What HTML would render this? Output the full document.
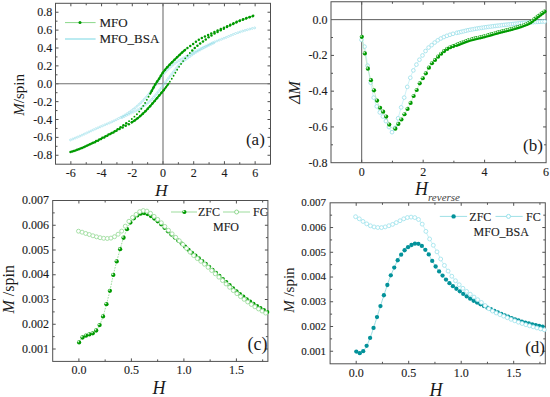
<!DOCTYPE html>
<html><head><meta charset="utf-8"><style>
html,body{margin:0;padding:0;background:#fff;width:550px;height:397px;overflow:hidden}
svg{display:block;font-family:"Liberation Serif", serif}
text.t{stroke:#1a1a1a;stroke-width:0.12px}
</style></head><body>
<svg width="550" height="397" viewBox="0 0 550 397">
<rect width="550" height="397" fill="#fff"/>
<rect x="55.5" y="3.3" width="215" height="160.9" fill="none" stroke="#505050" stroke-width="1.0"/>
<line x1="70.86" y1="164.2" x2="70.86" y2="161.2" stroke="#505050" stroke-width="1"/>
<line x1="70.86" y1="3.3" x2="70.86" y2="6.3" stroke="#505050" stroke-width="1"/>
<line x1="101.57" y1="164.2" x2="101.57" y2="161.2" stroke="#505050" stroke-width="1"/>
<line x1="101.57" y1="3.3" x2="101.57" y2="6.3" stroke="#505050" stroke-width="1"/>
<line x1="132.29" y1="164.2" x2="132.29" y2="161.2" stroke="#505050" stroke-width="1"/>
<line x1="132.29" y1="3.3" x2="132.29" y2="6.3" stroke="#505050" stroke-width="1"/>
<line x1="163" y1="164.2" x2="163" y2="161.2" stroke="#505050" stroke-width="1"/>
<line x1="163" y1="3.3" x2="163" y2="6.3" stroke="#505050" stroke-width="1"/>
<line x1="193.71" y1="164.2" x2="193.71" y2="161.2" stroke="#505050" stroke-width="1"/>
<line x1="193.71" y1="3.3" x2="193.71" y2="6.3" stroke="#505050" stroke-width="1"/>
<line x1="224.43" y1="164.2" x2="224.43" y2="161.2" stroke="#505050" stroke-width="1"/>
<line x1="224.43" y1="3.3" x2="224.43" y2="6.3" stroke="#505050" stroke-width="1"/>
<line x1="255.14" y1="164.2" x2="255.14" y2="161.2" stroke="#505050" stroke-width="1"/>
<line x1="255.14" y1="3.3" x2="255.14" y2="6.3" stroke="#505050" stroke-width="1"/>
<line x1="86.22" y1="164.2" x2="86.22" y2="162.2" stroke="#505050" stroke-width="1"/>
<line x1="86.22" y1="3.3" x2="86.22" y2="5.3" stroke="#505050" stroke-width="1"/>
<line x1="116.93" y1="164.2" x2="116.93" y2="162.2" stroke="#505050" stroke-width="1"/>
<line x1="116.93" y1="3.3" x2="116.93" y2="5.3" stroke="#505050" stroke-width="1"/>
<line x1="147.64" y1="164.2" x2="147.64" y2="162.2" stroke="#505050" stroke-width="1"/>
<line x1="147.64" y1="3.3" x2="147.64" y2="5.3" stroke="#505050" stroke-width="1"/>
<line x1="178.36" y1="164.2" x2="178.36" y2="162.2" stroke="#505050" stroke-width="1"/>
<line x1="178.36" y1="3.3" x2="178.36" y2="5.3" stroke="#505050" stroke-width="1"/>
<line x1="209.07" y1="164.2" x2="209.07" y2="162.2" stroke="#505050" stroke-width="1"/>
<line x1="209.07" y1="3.3" x2="209.07" y2="5.3" stroke="#505050" stroke-width="1"/>
<line x1="239.78" y1="164.2" x2="239.78" y2="162.2" stroke="#505050" stroke-width="1"/>
<line x1="239.78" y1="3.3" x2="239.78" y2="5.3" stroke="#505050" stroke-width="1"/>
<line x1="55.5" y1="155.26" x2="58.5" y2="155.26" stroke="#505050" stroke-width="1"/>
<line x1="270.5" y1="155.26" x2="267.5" y2="155.26" stroke="#505050" stroke-width="1"/>
<line x1="55.5" y1="137.38" x2="58.5" y2="137.38" stroke="#505050" stroke-width="1"/>
<line x1="270.5" y1="137.38" x2="267.5" y2="137.38" stroke="#505050" stroke-width="1"/>
<line x1="55.5" y1="119.51" x2="58.5" y2="119.51" stroke="#505050" stroke-width="1"/>
<line x1="270.5" y1="119.51" x2="267.5" y2="119.51" stroke="#505050" stroke-width="1"/>
<line x1="55.5" y1="101.63" x2="58.5" y2="101.63" stroke="#505050" stroke-width="1"/>
<line x1="270.5" y1="101.63" x2="267.5" y2="101.63" stroke="#505050" stroke-width="1"/>
<line x1="55.5" y1="83.75" x2="58.5" y2="83.75" stroke="#505050" stroke-width="1"/>
<line x1="270.5" y1="83.75" x2="267.5" y2="83.75" stroke="#505050" stroke-width="1"/>
<line x1="55.5" y1="65.87" x2="58.5" y2="65.87" stroke="#505050" stroke-width="1"/>
<line x1="270.5" y1="65.87" x2="267.5" y2="65.87" stroke="#505050" stroke-width="1"/>
<line x1="55.5" y1="47.99" x2="58.5" y2="47.99" stroke="#505050" stroke-width="1"/>
<line x1="270.5" y1="47.99" x2="267.5" y2="47.99" stroke="#505050" stroke-width="1"/>
<line x1="55.5" y1="30.12" x2="58.5" y2="30.12" stroke="#505050" stroke-width="1"/>
<line x1="270.5" y1="30.12" x2="267.5" y2="30.12" stroke="#505050" stroke-width="1"/>
<line x1="55.5" y1="12.24" x2="58.5" y2="12.24" stroke="#505050" stroke-width="1"/>
<line x1="270.5" y1="12.24" x2="267.5" y2="12.24" stroke="#505050" stroke-width="1"/>
<line x1="55.5" y1="146.32" x2="57.5" y2="146.32" stroke="#505050" stroke-width="1"/>
<line x1="270.5" y1="146.32" x2="268.5" y2="146.32" stroke="#505050" stroke-width="1"/>
<line x1="55.5" y1="128.44" x2="57.5" y2="128.44" stroke="#505050" stroke-width="1"/>
<line x1="270.5" y1="128.44" x2="268.5" y2="128.44" stroke="#505050" stroke-width="1"/>
<line x1="55.5" y1="110.57" x2="57.5" y2="110.57" stroke="#505050" stroke-width="1"/>
<line x1="270.5" y1="110.57" x2="268.5" y2="110.57" stroke="#505050" stroke-width="1"/>
<line x1="55.5" y1="92.69" x2="57.5" y2="92.69" stroke="#505050" stroke-width="1"/>
<line x1="270.5" y1="92.69" x2="268.5" y2="92.69" stroke="#505050" stroke-width="1"/>
<line x1="55.5" y1="74.81" x2="57.5" y2="74.81" stroke="#505050" stroke-width="1"/>
<line x1="270.5" y1="74.81" x2="268.5" y2="74.81" stroke="#505050" stroke-width="1"/>
<line x1="55.5" y1="56.93" x2="57.5" y2="56.93" stroke="#505050" stroke-width="1"/>
<line x1="270.5" y1="56.93" x2="268.5" y2="56.93" stroke="#505050" stroke-width="1"/>
<line x1="55.5" y1="39.05" x2="57.5" y2="39.05" stroke="#505050" stroke-width="1"/>
<line x1="270.5" y1="39.05" x2="268.5" y2="39.05" stroke="#505050" stroke-width="1"/>
<line x1="55.5" y1="21.18" x2="57.5" y2="21.18" stroke="#505050" stroke-width="1"/>
<line x1="270.5" y1="21.18" x2="268.5" y2="21.18" stroke="#505050" stroke-width="1"/>
<line x1="55.5" y1="83.75" x2="270.5" y2="83.75" stroke="#707070" stroke-width="1.1"/>
<line x1="163" y1="3.3" x2="163" y2="164.2" stroke="#707070" stroke-width="1.1"/>
<g fill="none" stroke="#90dce8" stroke-width="0.6"><circle cx="70.5" cy="139.92" r="0.95"/><circle cx="72.83" cy="139.02" r="0.95"/><circle cx="75.15" cy="138.09" r="0.95"/><circle cx="77.46" cy="137.13" r="0.95"/><circle cx="79.76" cy="136.15" r="0.95"/><circle cx="82.04" cy="135.13" r="0.95"/><circle cx="84.31" cy="134.09" r="0.95"/><circle cx="86.58" cy="133.02" r="0.95"/><circle cx="88.84" cy="131.97" r="0.95"/><circle cx="91.1" cy="130.9" r="0.95"/><circle cx="93.37" cy="129.84" r="0.95"/><circle cx="95.64" cy="128.8" r="0.95"/><circle cx="97.93" cy="127.8" r="0.95"/><circle cx="100.22" cy="126.8" r="0.95"/><circle cx="102.52" cy="125.82" r="0.95"/><circle cx="104.83" cy="124.85" r="0.95"/><circle cx="107.14" cy="123.89" r="0.95"/><circle cx="109.44" cy="122.91" r="0.95"/><circle cx="111.72" cy="121.9" r="0.95"/><circle cx="113.99" cy="120.84" r="0.95"/><circle cx="116.23" cy="119.73" r="0.95"/><circle cx="118.45" cy="118.59" r="0.95"/><circle cx="120.66" cy="117.42" r="0.95"/><circle cx="122.84" cy="116.2" r="0.95"/><circle cx="125" cy="114.94" r="0.95"/><circle cx="127.13" cy="113.62" r="0.95"/><circle cx="129.21" cy="112.25" r="0.95"/><circle cx="131.26" cy="110.81" r="0.95"/><circle cx="133.26" cy="109.31" r="0.95"/><circle cx="135.2" cy="107.74" r="0.95"/><circle cx="137.11" cy="106.12" r="0.95"/><circle cx="138.97" cy="104.45" r="0.95"/><circle cx="140.79" cy="102.73" r="0.95"/><circle cx="142.57" cy="100.98" r="0.95"/><circle cx="144.33" cy="99.2" r="0.95"/><circle cx="146.04" cy="97.38" r="0.95"/><circle cx="147.67" cy="95.49" r="0.95"/><circle cx="149.24" cy="93.54" r="0.95"/><circle cx="150.78" cy="91.57" r="0.95"/><circle cx="152.29" cy="89.58" r="0.95"/><circle cx="153.78" cy="87.57" r="0.95"/><circle cx="155.21" cy="85.52" r="0.95"/><circle cx="156.59" cy="83.44" r="0.95"/><circle cx="157.99" cy="81.36" r="0.95"/><circle cx="159.43" cy="79.32" r="0.95"/><circle cx="160.95" cy="77.34" r="0.95"/><circle cx="162.51" cy="75.39" r="0.95"/><circle cx="164.11" cy="73.46" r="0.95"/><circle cx="165.76" cy="71.59" r="0.95"/><circle cx="167.49" cy="69.78" r="0.95"/><circle cx="169.32" cy="68.08" r="0.95"/><circle cx="171.2" cy="66.43" r="0.95"/><circle cx="173.14" cy="64.85" r="0.95"/><circle cx="175.13" cy="63.34" r="0.95"/><circle cx="177.16" cy="61.88" r="0.95"/><circle cx="179.24" cy="60.49" r="0.95"/><circle cx="181.36" cy="59.17" r="0.95"/><circle cx="183.54" cy="57.95" r="0.95"/><circle cx="185.76" cy="56.79" r="0.95"/><circle cx="187.96" cy="55.61" r="0.95"/><circle cx="190.15" cy="54.41" r="0.95"/><circle cx="192.35" cy="53.21" r="0.95"/><circle cx="194.54" cy="52.01" r="0.95"/><circle cx="196.74" cy="50.82" r="0.95"/><circle cx="198.95" cy="49.65" r="0.95"/><circle cx="201.16" cy="48.49" r="0.95"/><circle cx="203.38" cy="47.34" r="0.95"/><circle cx="205.6" cy="46.19" r="0.95"/><circle cx="207.83" cy="45.06" r="0.95"/><circle cx="210.08" cy="43.96" r="0.95"/><circle cx="212.35" cy="42.91" r="0.95"/><circle cx="214.64" cy="41.92" r="0.95"/><circle cx="216.96" cy="40.99" r="0.95"/><circle cx="219.29" cy="40.08" r="0.95"/><circle cx="221.63" cy="39.19" r="0.95"/><circle cx="223.96" cy="38.29" r="0.95"/><circle cx="226.28" cy="37.36" r="0.95"/><circle cx="228.58" cy="36.39" r="0.95"/><circle cx="230.88" cy="35.41" r="0.95"/><circle cx="233.19" cy="34.44" r="0.95"/><circle cx="235.51" cy="33.52" r="0.95"/><circle cx="237.87" cy="32.68" r="0.95"/><circle cx="240.24" cy="31.89" r="0.95"/><circle cx="242.62" cy="31.13" r="0.95"/><circle cx="245.01" cy="30.4" r="0.95"/><circle cx="247.41" cy="29.71" r="0.95"/><circle cx="249.83" cy="29.05" r="0.95"/><circle cx="252.25" cy="28.44" r="0.95"/><circle cx="254.69" cy="27.88" r="0.95"/></g>
<g fill="none" stroke="#90dce8" stroke-width="0.6"><circle cx="122.09" cy="117.54" r="0.95"/><circle cx="124.33" cy="116.44" r="0.95"/><circle cx="126.57" cy="115.33" r="0.95"/><circle cx="128.81" cy="114.23" r="0.95"/><circle cx="131.06" cy="113.13" r="0.95"/><circle cx="133.32" cy="112.07" r="0.95"/><circle cx="135.57" cy="110.98" r="0.95"/><circle cx="137.78" cy="109.81" r="0.95"/><circle cx="139.92" cy="108.52" r="0.95"/><circle cx="142.01" cy="107.14" r="0.95"/><circle cx="144.05" cy="105.7" r="0.95"/><circle cx="146.06" cy="104.21" r="0.95"/><circle cx="148.04" cy="102.68" r="0.95"/><circle cx="149.94" cy="101.07" r="0.95"/><circle cx="151.76" cy="99.35" r="0.95"/><circle cx="153.47" cy="97.52" r="0.95"/><circle cx="155.09" cy="95.62" r="0.95"/><circle cx="156.67" cy="93.68" r="0.95"/><circle cx="158.22" cy="91.72" r="0.95"/><circle cx="159.76" cy="89.75" r="0.95"/><circle cx="161.3" cy="87.78" r="0.95"/><circle cx="162.8" cy="85.78" r="0.95"/><circle cx="164.28" cy="83.77" r="0.95"/><circle cx="165.77" cy="81.76" r="0.95"/><circle cx="167.28" cy="79.77" r="0.95"/><circle cx="168.79" cy="77.78" r="0.95"/><circle cx="170.31" cy="75.79" r="0.95"/><circle cx="171.84" cy="73.81" r="0.95"/><circle cx="173.4" cy="71.86" r="0.95"/><circle cx="174.94" cy="69.89" r="0.95"/><circle cx="176.49" cy="67.93" r="0.95"/><circle cx="178.09" cy="66.01" r="0.95"/><circle cx="179.8" cy="64.19" r="0.95"/><circle cx="181.67" cy="62.53" r="0.95"/><circle cx="183.64" cy="60.99" r="0.95"/><circle cx="185.67" cy="59.53" r="0.95"/><circle cx="187.7" cy="58.07" r="0.95"/><circle cx="189.72" cy="56.6" r="0.95"/><circle cx="191.75" cy="55.14" r="0.95"/><circle cx="193.81" cy="53.72" r="0.95"/><circle cx="195.92" cy="52.38" r="0.95"/><circle cx="198.07" cy="51.1" r="0.95"/><circle cx="200.23" cy="49.86" r="0.95"/><circle cx="202.42" cy="48.65" r="0.95"/><circle cx="204.63" cy="47.47" r="0.95"/><circle cx="206.85" cy="46.33" r="0.95"/><circle cx="209.09" cy="45.21" r="0.95"/><circle cx="211.33" cy="44.11" r="0.95"/><circle cx="213.59" cy="43.03" r="0.95"/></g>
<g fill="#009a00" opacity="1"><circle cx="70.5" cy="152.04" r="1.25"/><circle cx="73.84" cy="150.99" r="1.25"/><circle cx="77.14" cy="149.83" r="1.25"/><circle cx="80.41" cy="148.58" r="1.25"/><circle cx="83.62" cy="147.2" r="1.25"/><circle cx="86.8" cy="145.72" r="1.25"/><circle cx="89.96" cy="144.22" r="1.25"/><circle cx="93.1" cy="142.67" r="1.25"/><circle cx="96.21" cy="141.08" r="1.25"/><circle cx="99.31" cy="139.45" r="1.25"/><circle cx="102.4" cy="137.8" r="1.25"/><circle cx="105.48" cy="136.14" r="1.25"/><circle cx="108.57" cy="134.49" r="1.25"/><circle cx="111.68" cy="132.89" r="1.25"/><circle cx="114.75" cy="131.21" r="1.25"/><circle cx="117.7" cy="129.33" r="1.25"/><circle cx="120.57" cy="127.32" r="1.25"/><circle cx="123.42" cy="125.29" r="1.25"/><circle cx="126.27" cy="123.26" r="1.25"/><circle cx="151.87" cy="90.63" r="1.25"/><circle cx="153.5" cy="87.53" r="1.25"/><circle cx="155.18" cy="84.46" r="1.25"/><circle cx="157.1" cy="81.53" r="1.25"/><circle cx="159.07" cy="78.64" r="1.25"/><circle cx="160.9" cy="75.66" r="1.25"/><circle cx="162.77" cy="72.7" r="1.25"/><circle cx="164.91" cy="69.93" r="1.25"/><circle cx="167.19" cy="67.28" r="1.25"/><circle cx="169.58" cy="64.73" r="1.25"/><circle cx="172.05" cy="62.24" r="1.25"/><circle cx="174.53" cy="59.77" r="1.25"/><circle cx="177.02" cy="57.31" r="1.25"/><circle cx="179.54" cy="54.88" r="1.25"/><circle cx="182.11" cy="52.5" r="1.25"/><circle cx="184.74" cy="50.2" r="1.25"/><circle cx="187.45" cy="47.99" r="1.25"/><circle cx="190.28" cy="45.92" r="1.25"/><circle cx="193.12" cy="43.88" r="1.25"/><circle cx="195.93" cy="41.79" r="1.25"/><circle cx="198.8" cy="39.79" r="1.25"/><circle cx="201.82" cy="38.02" r="1.25"/><circle cx="204.93" cy="36.43" r="1.25"/><circle cx="208.1" cy="34.93" r="1.25"/><circle cx="211.26" cy="33.44" r="1.25"/><circle cx="214.43" cy="31.95" r="1.25"/><circle cx="217.62" cy="30.5" r="1.25"/><circle cx="220.81" cy="29.06" r="1.25"/><circle cx="224" cy="27.63" r="1.25"/><circle cx="227.19" cy="26.19" r="1.25"/><circle cx="230.36" cy="24.71" r="1.25"/><circle cx="233.54" cy="23.24" r="1.25"/><circle cx="236.74" cy="21.83" r="1.25"/><circle cx="239.99" cy="20.53" r="1.25"/><circle cx="243.26" cy="19.27" r="1.25"/><circle cx="246.54" cy="18.06" r="1.25"/><circle cx="249.85" cy="16.91" r="1.25"/><circle cx="253.17" cy="15.82" r="1.25"/></g>
<g fill="#009a00" opacity="1"><circle cx="129.07" cy="121.17" r="0.95"/><circle cx="131.8" cy="118.97" r="0.95"/><circle cx="134.42" cy="116.66" r="0.95"/><circle cx="136.91" cy="114.2" r="0.95"/><circle cx="139.24" cy="111.58" r="0.95"/><circle cx="141.33" cy="108.77" r="0.95"/><circle cx="143.26" cy="105.85" r="0.95"/><circle cx="145.11" cy="102.88" r="0.95"/><circle cx="146.87" cy="99.86" r="0.95"/><circle cx="148.56" cy="96.79" r="0.95"/><circle cx="150.23" cy="93.72" r="0.95"/></g>
<g fill="#009a00" opacity="1"><circle cx="72.17" cy="151.53" r="1.25"/><circle cx="75.49" cy="150.42" r="1.25"/><circle cx="78.78" cy="149.21" r="1.25"/><circle cx="82.02" cy="147.9" r="1.25"/><circle cx="85.2" cy="146.44" r="1.25"/><circle cx="88.39" cy="145" r="1.25"/><circle cx="91.6" cy="143.61" r="1.25"/><circle cx="94.8" cy="142.19" r="1.25"/><circle cx="97.95" cy="140.66" r="1.25"/><circle cx="101.07" cy="139.07" r="1.25"/><circle cx="104.16" cy="137.43" r="1.25"/><circle cx="107.25" cy="135.79" r="1.25"/><circle cx="110.33" cy="134.12" r="1.25"/><circle cx="113.4" cy="132.43" r="1.25"/><circle cx="116.47" cy="130.76" r="1.25"/><circle cx="119.55" cy="129.09" r="1.25"/><circle cx="122.63" cy="127.44" r="1.25"/><circle cx="125.73" cy="125.81" r="1.25"/><circle cx="128.81" cy="124.14" r="1.25"/><circle cx="131.8" cy="122.33" r="1.25"/><circle cx="134.72" cy="120.4" r="1.25"/><circle cx="137.54" cy="118.33" r="1.25"/><circle cx="140.23" cy="116.09" r="1.25"/><circle cx="142.81" cy="113.72" r="1.25"/><circle cx="145.32" cy="111.28" r="1.25"/><circle cx="147.75" cy="108.77" r="1.25"/><circle cx="150.1" cy="106.18" r="1.25"/><circle cx="152.42" cy="103.55" r="1.25"/><circle cx="154.69" cy="100.89" r="1.25"/><circle cx="156.93" cy="98.2" r="1.25"/><circle cx="159.2" cy="95.53" r="1.25"/><circle cx="161.47" cy="92.87" r="1.25"/><circle cx="163.68" cy="90.16" r="1.25"/><circle cx="192.25" cy="50.49" r="1.25"/><circle cx="194.77" cy="48.07" r="1.25"/><circle cx="197.42" cy="45.78" r="1.25"/><circle cx="200.18" cy="43.62" r="1.25"/><circle cx="202.97" cy="41.52" r="1.25"/><circle cx="205.75" cy="39.39" r="1.25"/><circle cx="208.56" cy="37.3" r="1.25"/><circle cx="211.49" cy="35.38" r="1.25"/><circle cx="214.5" cy="33.61" r="1.25"/><circle cx="217.57" cy="31.93" r="1.25"/><circle cx="220.68" cy="30.31" r="1.25"/><circle cx="223.8" cy="28.72" r="1.25"/><circle cx="226.91" cy="27.12" r="1.25"/><circle cx="230.02" cy="25.51" r="1.25"/><circle cx="233.14" cy="23.94" r="1.25"/><circle cx="236.31" cy="22.45" r="1.25"/><circle cx="239.53" cy="21.07" r="1.25"/><circle cx="242.77" cy="19.76" r="1.25"/><circle cx="246.04" cy="18.49" r="1.25"/><circle cx="249.33" cy="17.3" r="1.25"/><circle cx="252.64" cy="16.18" r="1.25"/></g>
<g fill="#009a00" opacity="1"><circle cx="165.81" cy="87.38" r="0.9"/><circle cx="167.88" cy="84.56" r="0.9"/><circle cx="169.87" cy="81.68" r="0.9"/><circle cx="171.77" cy="78.74" r="0.9"/><circle cx="173.58" cy="75.74" r="0.9"/><circle cx="175.36" cy="72.73" r="0.9"/><circle cx="177.17" cy="69.74" r="0.9"/><circle cx="179.1" cy="66.81" r="0.9"/><circle cx="181.08" cy="63.93" r="0.9"/><circle cx="183.11" cy="61.08" r="0.9"/><circle cx="185.24" cy="58.3" r="0.9"/><circle cx="187.48" cy="55.61" r="0.9"/><circle cx="189.82" cy="53.01" r="0.9"/></g>
<path d="M150 94.14 L150.5 93.2 L151 92.26 L151.5 91.32 L152 90.39 L152.5 89.44 L153 88.48 L153.5 87.52 L154 86.57 L154.5 85.65 L155 84.77 L155.5 83.95 L156 83.16 L156.5 82.41 L157 81.68 L157.5 80.96 L158 80.24 L158.5 79.5 L159 78.75 L159.5 77.97 L160 77.16 L160.5 76.33 L161 75.49 L161.5 74.66 L162 73.86 L162.5 73.09 L163 72.37 L163.5 71.7 L164 71.06 L164.5 70.43 L165 69.81 L165.5 69.21 L166 68.63 L166.5 68.05 L167 67.49 L167.5 66.94 L168 66.39 L168.5 65.86 L169 65.33 L169.5 64.81 L170 64.3 L170.5 63.79 L171 63.29 L171.5 62.79 L172 62.29 L172.5 61.79 L173 61.3 L173.5 60.8 L174 60.3 L174.5 59.8 L175 59.3 L175.5 58.8 L176 58.31 L176.5 57.81 L177 57.32 L177.5 56.84 L178 56.35 L178.5 55.87 L179 55.39 L179.5 54.92 L180 54.44 L180.5 53.98 L181 53.51 L181.5 53.05 L182 52.6 L182.5 52.15 L183 51.7 L183.5 51.26 L184 50.83 L184.5 50.4 L185 49.97 L185.5 49.56 L186 49.14" fill="none" stroke="#009a00" stroke-width="1.9" opacity="1"/>
<path d="M131 122.83 L131.5 122.52 L132 122.21 L132.5 121.89 L133 121.57 L133.5 121.24 L134 120.9 L134.5 120.56 L135 120.21 L135.5 119.86 L136 119.49 L136.5 119.12 L137 118.74 L137.5 118.36 L138 117.96 L138.5 117.56 L139 117.14 L139.5 116.72 L140 116.28 L140.5 115.85 L141 115.4 L141.5 114.94 L142 114.48 L142.5 114.02 L143 113.54 L143.5 113.06 L144 112.58 L144.5 112.09 L145 111.6 L145.5 111.1 L146 110.6 L146.5 110.08 L147 109.56 L147.5 109.03 L148 108.49 L148.5 107.95 L149 107.4 L149.5 106.85 L150 106.29 L150.5 105.73 L151 105.17 L151.5 104.6 L152 104.03 L152.5 103.46 L153 102.89 L153.5 102.31 L154 101.72 L154.5 101.12 L155 100.53 L155.5 99.92 L156 99.32 L156.5 98.72 L157 98.12 L157.5 97.52 L158 96.93 L158.5 96.35 L159 95.76 L159.5 95.18 L160 94.59 L160.5 94.01 L161 93.42 L161.5 92.83 L162 92.23 L162.5 91.62 L163 91.01 L163.5 90.39 L164 89.76 L164.5 89.11 L165 88.46 L165.5 87.8 L166 87.14 L166.5 86.46 L167 85.78 L167.5 85.09 L168 84.39 L168.5 83.68 L169 82.96" fill="none" stroke="#009a00" stroke-width="1.9" opacity="1"/>
<line x1="65" y1="22.6" x2="95.6" y2="22.6" stroke="#8ad88a" stroke-width="1"/>
<circle cx="80" cy="22.6" r="1.5" fill="#009a00"/>
<line x1="65" y1="39" x2="95.6" y2="39" stroke="#a4e4ec" stroke-width="1.5"/>
<text x="99.4" y="26.7" class="t" font-size="13" text-anchor="start" fill="#1a1a1a">MFO</text>
<text x="99.4" y="43.2" class="t" font-size="13" text-anchor="start" fill="#1a1a1a">MFO_BSA</text>
<text x="52.2" y="16.24" class="t" font-size="12" text-anchor="end" fill="#1a1a1a">0.8</text>
<text x="52.2" y="34.12" class="t" font-size="12" text-anchor="end" fill="#1a1a1a">0.6</text>
<text x="52.2" y="51.99" class="t" font-size="12" text-anchor="end" fill="#1a1a1a">0.4</text>
<text x="52.2" y="69.87" class="t" font-size="12" text-anchor="end" fill="#1a1a1a">0.2</text>
<text x="52.2" y="87.75" class="t" font-size="12" text-anchor="end" fill="#1a1a1a">0.0</text>
<text x="52.2" y="105.63" class="t" font-size="12" text-anchor="end" fill="#1a1a1a">-0.2</text>
<text x="52.2" y="123.51" class="t" font-size="12" text-anchor="end" fill="#1a1a1a">-0.4</text>
<text x="52.2" y="141.38" class="t" font-size="12" text-anchor="end" fill="#1a1a1a">-0.6</text>
<text x="52.2" y="159.26" class="t" font-size="12" text-anchor="end" fill="#1a1a1a">-0.8</text>
<text x="70.86" y="176.7" class="t" font-size="12" text-anchor="middle" fill="#1a1a1a">-6</text>
<text x="101.57" y="176.7" class="t" font-size="12" text-anchor="middle" fill="#1a1a1a">-4</text>
<text x="132.29" y="176.7" class="t" font-size="12" text-anchor="middle" fill="#1a1a1a">-2</text>
<text x="163" y="176.7" class="t" font-size="12" text-anchor="middle" fill="#1a1a1a">0</text>
<text x="193.71" y="176.7" class="t" font-size="12" text-anchor="middle" fill="#1a1a1a">2</text>
<text x="224.43" y="176.7" class="t" font-size="12" text-anchor="middle" fill="#1a1a1a">4</text>
<text x="255.14" y="176.7" class="t" font-size="12" text-anchor="middle" fill="#1a1a1a">6</text>
<text x="161.4" y="195.8" font-size="17.5" text-anchor="middle" font-style="italic" fill="#1a1a1a">H</text>
<text transform="translate(23.9,94.8) rotate(-90)" font-size="15" text-anchor="middle" fill="#1a1a1a"><tspan font-style="italic">M</tspan>/spin</text>
<text x="264.8" y="144.8" font-size="17" text-anchor="end" fill="#1a1a1a">(a)</text>
<rect x="331" y="1.75" width="215.1" height="160.95" fill="none" stroke="#505050" stroke-width="1.0"/>
<line x1="361.7" y1="162.7" x2="361.7" y2="159.7" stroke="#505050" stroke-width="1"/>
<line x1="361.7" y1="1.75" x2="361.7" y2="4.75" stroke="#505050" stroke-width="1"/>
<line x1="423.16" y1="162.7" x2="423.16" y2="159.7" stroke="#505050" stroke-width="1"/>
<line x1="423.16" y1="1.75" x2="423.16" y2="4.75" stroke="#505050" stroke-width="1"/>
<line x1="484.62" y1="162.7" x2="484.62" y2="159.7" stroke="#505050" stroke-width="1"/>
<line x1="484.62" y1="1.75" x2="484.62" y2="4.75" stroke="#505050" stroke-width="1"/>
<line x1="392.43" y1="162.7" x2="392.43" y2="160.7" stroke="#505050" stroke-width="1"/>
<line x1="392.43" y1="1.75" x2="392.43" y2="3.75" stroke="#505050" stroke-width="1"/>
<line x1="453.89" y1="162.7" x2="453.89" y2="160.7" stroke="#505050" stroke-width="1"/>
<line x1="453.89" y1="1.75" x2="453.89" y2="3.75" stroke="#505050" stroke-width="1"/>
<line x1="515.35" y1="162.7" x2="515.35" y2="160.7" stroke="#505050" stroke-width="1"/>
<line x1="515.35" y1="1.75" x2="515.35" y2="3.75" stroke="#505050" stroke-width="1"/>
<line x1="331" y1="55.41" x2="334" y2="55.41" stroke="#505050" stroke-width="1"/>
<line x1="546.1" y1="55.41" x2="543.1" y2="55.41" stroke="#505050" stroke-width="1"/>
<line x1="331" y1="91.17" x2="334" y2="91.17" stroke="#505050" stroke-width="1"/>
<line x1="546.1" y1="91.17" x2="543.1" y2="91.17" stroke="#505050" stroke-width="1"/>
<line x1="331" y1="126.93" x2="334" y2="126.93" stroke="#505050" stroke-width="1"/>
<line x1="546.1" y1="126.93" x2="543.1" y2="126.93" stroke="#505050" stroke-width="1"/>
<line x1="331" y1="37.53" x2="333" y2="37.53" stroke="#505050" stroke-width="1"/>
<line x1="546.1" y1="37.53" x2="544.1" y2="37.53" stroke="#505050" stroke-width="1"/>
<line x1="331" y1="73.29" x2="333" y2="73.29" stroke="#505050" stroke-width="1"/>
<line x1="546.1" y1="73.29" x2="544.1" y2="73.29" stroke="#505050" stroke-width="1"/>
<line x1="331" y1="109.05" x2="333" y2="109.05" stroke="#505050" stroke-width="1"/>
<line x1="546.1" y1="109.05" x2="544.1" y2="109.05" stroke="#505050" stroke-width="1"/>
<line x1="331" y1="144.81" x2="333" y2="144.81" stroke="#505050" stroke-width="1"/>
<line x1="546.1" y1="144.81" x2="544.1" y2="144.81" stroke="#505050" stroke-width="1"/>
<line x1="331" y1="19.65" x2="546.1" y2="19.65" stroke="#5a5a5a" stroke-width="1.0"/>
<line x1="361.7" y1="1.75" x2="361.7" y2="162.7" stroke="#5a5a5a" stroke-width="1.0"/>
<path d="M361.5 39.84 L362 40.22 L362.5 40.99 L363 42.06 L363.5 43.38 L364 44.88 L364.5 46.5 L365 48.27 L365.5 50.9 L366 54.25 L366.5 57.96 L367 61.67 L367.5 65 L368 67.99 L368.5 70.92 L369 73.79 L369.5 76.59 L370 79.32 L370.5 81.98 L371 84.61 L371.5 87.27 L372 89.89 L372.5 92.41 L373 94.76 L373.5 96.87 L374 98.7 L374.5 100.36 L375 101.88 L375.5 103.3 L376 104.62 L376.5 105.85 L377 107 L377.5 108.09 L378 109.12 L378.5 110.1 L379 111.02 L379.5 111.9 L380 112.72 L380.5 113.5 L381 114.22 L381.5 114.86 L382 115.47 L382.5 116.07 L383 116.69 L383.5 117.36 L384 118.08 L384.5 118.84 L385 119.63 L385.5 120.45 L386 121.3 L386.5 122.18 L387 123.12 L387.5 124.13 L388 125.16 L388.5 126.17 L389 127.14 L389.5 128.07 L390 129.12 L390.5 130.19 L391 131.14 L391.5 131.85 L392 132.19 L392.5 132.09 L393 131.67 L393.5 130.99 L394 130.12 L394.5 129.11 L395 128.02 L395.5 126.92 L396 125.71 L396.5 124.2 L397 122.46 L397.5 120.58 L398 118.67 L398.5 116.81 L399 115.05 L399.5 113.27 L400 111.47 L400.5 109.67 L401 107.9 L401.5 106.17 L402 104.51 L402.5 102.92 L403 101.37 L403.5 99.83 L404 98.26 L404.5 96.63 L405 94.92 L405.5 93.12 L406 91.28 L406.5 89.47 L407 87.73 L407.5 86.09 L408 84.48 L408.5 82.91 L409 81.4 L409.5 79.94 L410 78.55 L410.5 77.2 L411 75.9 L411.5 74.64 L412 73.43 L412.5 72.27 L413 71.16 L413.5 70.1 L414 69.08 L414.5 68.1 L415 67.14 L415.5 66.22 L416 65.32 L416.5 64.45 L417 63.6 L417.5 62.77 L418 61.97 L418.5 61.18 L419 60.41 L419.5 59.65 L420 58.91 L420.5 58.19 L421 57.49 L421.5 56.8 L422 56.12 L422.5 55.44 L423 54.75 L423.5 54.06 L424 53.34 L424.5 52.59 L425 51.84 L425.5 51.1 L426 50.39 L426.5 49.72 L427 49.12 L427.5 48.59 L428 48.11 L428.5 47.66 L429 47.24 L429.5 46.83 L430 46.44 L430.5 46.06 L431 45.67 L431.5 45.27 L432 44.85 L432.5 44.42 L433 43.99 L433.5 43.56 L434 43.13 L434.5 42.71 L435 42.29 L435.5 41.9 L436 41.52 L436.5 41.16 L437 40.81 L437.5 40.48 L438 40.15 L438.5 39.83 L439 39.52 L439.5 39.23 L440 38.94 L440.5 38.66 L441 38.39 L441.5 38.13 L442 37.88 L442.5 37.64 L443 37.4 L443.5 37.17 L444 36.94 L444.5 36.73 L445 36.52 L445.5 36.32 L446 36.13 L446.5 35.94 L447 35.77 L447.5 35.59 L448 35.42 L448.5 35.26 L449 35.09 L449.5 34.93 L450 34.77 L450.5 34.6 L451 34.44 L451.5 34.27 L452 34.11 L452.5 33.95 L453 33.8 L453.5 33.65 L454 33.51 L454.5 33.37 L455 33.25 L455.5 33.13 L456 33.02 L456.5 32.91 L457 32.81 L457.5 32.7 L458 32.6 L458.5 32.49 L459 32.38 L459.5 32.26 L460 32.14 L460.5 32.03 L461 31.91 L461.5 31.78 L462 31.66 L462.5 31.54 L463 31.41 L463.5 31.29 L464 31.17 L464.5 31.04 L465 30.92 L465.5 30.8 L466 30.68 L466.5 30.56 L467 30.44 L467.5 30.33 L468 30.22 L468.5 30.11 L469 30 L469.5 29.9 L470 29.8 L470.5 29.7 L471 29.61 L471.5 29.51 L472 29.42 L472.5 29.33 L473 29.24 L473.5 29.15 L474 29.06 L474.5 28.97 L475 28.89 L475.5 28.8 L476 28.72 L476.5 28.63 L477 28.55 L477.5 28.47 L478 28.39 L478.5 28.31 L479 28.23 L479.5 28.15 L480 28.07 L480.5 28 L481 27.92 L481.5 27.84 L482 27.77 L482.5 27.69 L483 27.62 L483.5 27.55 L484 27.47 L484.5 27.4 L485 27.33 L485.5 27.26 L486 27.18 L486.5 27.11 L487 27.04 L487.5 26.97 L488 26.91 L488.5 26.84 L489 26.77 L489.5 26.7 L490 26.64 L490.5 26.57 L491 26.51 L491.5 26.44 L492 26.38 L492.5 26.31 L493 26.25 L493.5 26.19 L494 26.12 L494.5 26.06 L495 26 L495.5 25.94 L496 25.87 L496.5 25.81 L497 25.75 L497.5 25.69 L498 25.63 L498.5 25.57 L499 25.51 L499.5 25.45 L500 25.39 L500.5 25.33 L501 25.28 L501.5 25.22 L502 25.16 L502.5 25.1 L503 25.04 L503.5 24.99 L504 24.93 L504.5 24.88 L505 24.82 L505.5 24.76 L506 24.71 L506.5 24.65 L507 24.6 L507.5 24.54 L508 24.49 L508.5 24.44 L509 24.38 L509.5 24.33 L510 24.28 L510.5 24.22 L511 24.17 L511.5 24.12 L512 24.07 L512.5 24.01 L513 23.96 L513.5 23.91 L514 23.86 L514.5 23.81 L515 23.76 L515.5 23.7 L516 23.65 L516.5 23.6 L517 23.55 L517.5 23.49 L518 23.44 L518.5 23.39 L519 23.34 L519.5 23.29 L520 23.24 L520.5 23.19 L521 23.13 L521.5 23.09 L522 23.04 L522.5 22.99 L523 22.94 L523.5 22.89 L524 22.85 L524.5 22.8 L525 22.76 L525.5 22.71 L526 22.67 L526.5 22.63 L527 22.59 L527.5 22.55 L528 22.51 L528.5 22.48 L529 22.44 L529.5 22.41 L530 22.37 L530.5 22.34 L531 22.3 L531.5 22.27 L532 22.23 L532.5 22.2 L533 22.17 L533.5 22.13 L534 22.1 L534.5 22.07 L535 22.04 L535.5 22.01 L536 21.98 L536.5 21.95 L537 21.92 L537.5 21.89 L538 21.86 L538.5 21.83 L539 21.8 L539.5 21.78 L540 21.75 L540.5 21.72 L541 21.7 L541.5 21.67 L542 21.65 L542.5 21.63 L543 21.61 L543.5 21.58 L544 21.56 L544.5 21.54 L545 21.52 L545.5 21.5 L546 21.49" fill="none" stroke="#96e2ec" stroke-width="0.8" opacity="0.6"/>
<g fill="#fff" stroke="#9ee0ea" stroke-width="0.85"><circle cx="361.5" cy="39.84" r="1.85"/><circle cx="364.55" cy="46.66" r="1.85"/><circle cx="367.6" cy="65.6" r="1.85"/><circle cx="370.65" cy="82.76" r="1.85"/><circle cx="373.7" cy="97.64" r="1.85"/><circle cx="376.75" cy="106.43" r="1.85"/><circle cx="379.8" cy="112.4" r="1.85"/><circle cx="382.85" cy="116.5" r="1.85"/><circle cx="385.9" cy="121.13" r="1.85"/><circle cx="388.95" cy="127.04" r="1.85"/><circle cx="392" cy="132.19" r="1.85"/><circle cx="395.05" cy="127.91" r="1.85"/><circle cx="398.1" cy="118.29" r="1.85"/><circle cx="401.15" cy="107.38" r="1.85"/><circle cx="404.2" cy="97.62" r="1.85"/><circle cx="407.25" cy="86.91" r="1.85"/><circle cx="410.3" cy="77.74" r="1.85"/><circle cx="413.35" cy="70.42" r="1.85"/><circle cx="416.4" cy="64.62" r="1.85"/><circle cx="419.45" cy="59.73" r="1.85"/><circle cx="422.5" cy="55.44" r="1.85"/><circle cx="425.55" cy="51.02" r="1.85"/><circle cx="428.6" cy="47.57" r="1.85"/><circle cx="431.65" cy="45.14" r="1.85"/><circle cx="434.7" cy="42.54" r="1.85"/><circle cx="437.75" cy="40.31" r="1.85"/><circle cx="440.8" cy="38.5" r="1.85"/><circle cx="443.85" cy="37.01" r="1.85"/><circle cx="446.9" cy="35.8" r="1.85"/><circle cx="449.95" cy="34.78" r="1.85"/><circle cx="453" cy="33.8" r="1.85"/><circle cx="456.8" cy="32.85" r="1.85"/><circle cx="459.05" cy="32.37" r="1.85"/><circle cx="461.3" cy="31.83" r="1.85"/><circle cx="463.55" cy="31.28" r="1.85"/><circle cx="465.8" cy="30.73" r="1.85"/><circle cx="468.05" cy="30.21" r="1.85"/><circle cx="470.3" cy="29.74" r="1.85"/><circle cx="472.55" cy="29.32" r="1.85"/><circle cx="474.8" cy="28.92" r="1.85"/><circle cx="477.05" cy="28.54" r="1.85"/><circle cx="479.3" cy="28.18" r="1.85"/><circle cx="481.55" cy="27.84" r="1.85"/><circle cx="483.8" cy="27.5" r="1.85"/><circle cx="486.05" cy="27.18" r="1.85"/><circle cx="488.3" cy="26.87" r="1.85"/><circle cx="490.55" cy="26.56" r="1.85"/><circle cx="492.8" cy="26.27" r="1.85"/><circle cx="495.05" cy="25.99" r="1.85"/><circle cx="497.3" cy="25.72" r="1.85"/><circle cx="499.55" cy="25.45" r="1.85"/><circle cx="501.8" cy="25.18" r="1.85"/><circle cx="504.05" cy="24.93" r="1.85"/><circle cx="506.3" cy="24.68" r="1.85"/><circle cx="508.55" cy="24.43" r="1.85"/><circle cx="510.8" cy="24.19" r="1.85"/><circle cx="513.05" cy="23.96" r="1.85"/><circle cx="515.3" cy="23.72" r="1.85"/><circle cx="517.55" cy="23.49" r="1.85"/><circle cx="519.8" cy="23.26" r="1.85"/><circle cx="522.05" cy="23.03" r="1.85"/><circle cx="524.3" cy="22.82" r="1.85"/><circle cx="526.55" cy="22.63" r="1.85"/><circle cx="528.8" cy="22.46" r="1.85"/><circle cx="531.05" cy="22.3" r="1.85"/><circle cx="533.3" cy="22.15" r="1.85"/><circle cx="535.55" cy="22" r="1.85"/><circle cx="537.8" cy="21.87" r="1.85"/><circle cx="540.05" cy="21.75" r="1.85"/><circle cx="542.3" cy="21.64" r="1.85"/><circle cx="544.55" cy="21.54" r="1.85"/></g>
<path d="M361.8 36.82 L362.3 39.61 L362.8 42.37 L363.3 45.11 L363.8 47.81 L364.3 50.48 L364.8 53.13 L365.3 55.8 L365.8 58.47 L366.3 61.1 L366.8 63.65 L367.3 66.05 L367.8 68.27 L368.3 70.34 L368.8 72.31 L369.3 74.2 L369.8 76.03 L370.3 77.83 L370.8 79.61 L371.3 81.33 L371.8 83.01 L372.3 84.65 L372.8 86.29 L373.3 87.93 L373.8 89.6 L374.3 91.34 L374.8 93.13 L375.3 94.94 L375.8 96.71 L376.3 98.38 L376.8 99.91 L377.3 101.31 L377.8 102.67 L378.3 103.96 L378.8 105.17 L379.3 106.27 L379.8 107.25 L380.3 108.09 L380.8 108.81 L381.3 109.45 L381.8 110.05 L382.3 110.63 L382.8 111.22 L383.3 111.87 L383.8 112.6 L384.3 113.36 L384.8 114.14 L385.3 114.97 L385.8 115.85 L386.3 116.8 L386.8 117.84 L387.3 119.13 L387.8 120.6 L388.3 122.1 L388.8 123.5 L389.3 124.67 L389.8 125.5 L390.3 126.22 L390.8 126.88 L391.3 127.45 L391.8 127.88 L392.3 128.17 L392.8 128.32 L393.3 128.45 L393.8 128.56 L394.3 128.64 L394.8 128.69 L395.3 128.69 L395.8 128.37 L396.3 127.7 L396.8 126.81 L397.3 125.82 L397.8 124.86 L398.3 124.05 L398.8 123.34 L399.3 122.64 L399.8 121.94 L400.3 121.24 L400.8 120.51 L401.3 119.76 L401.8 118.96 L402.3 118.11 L402.8 117.24 L403.3 116.35 L403.8 115.46 L404.3 114.57 L404.8 113.71 L405.3 112.84 L405.8 111.98 L406.3 111.11 L406.8 110.23 L407.3 109.33 L407.8 108.41 L408.3 107.48 L408.8 106.52 L409.3 105.55 L409.8 104.56 L410.3 103.54 L410.8 102.5 L411.3 101.41 L411.8 100.26 L412.3 99.08 L412.8 97.91 L413.3 96.77 L413.8 95.69 L414.3 94.68 L414.8 93.7 L415.3 92.75 L415.8 91.79 L416.3 90.81 L416.8 89.79 L417.3 88.69 L417.8 87.55 L418.3 86.39 L418.8 85.26 L419.3 84.19 L419.8 83.22 L420.3 82.32 L420.8 81.47 L421.3 80.65 L421.8 79.85 L422.3 79.05 L422.8 78.24 L423.3 77.43 L423.8 76.65 L424.3 75.86 L424.8 75.08 L425.3 74.27 L425.8 73.44 L426.3 72.57 L426.8 71.63 L427.3 70.65 L427.8 69.67 L428.3 68.72 L428.8 67.83 L429.3 67.02 L429.8 66.24 L430.3 65.49 L430.8 64.77 L431.3 64.09 L431.8 63.45 L432.3 62.84 L432.8 62.28 L433.3 61.75 L433.8 61.23 L434.3 60.73 L434.8 60.23 L435.3 59.71 L435.8 59.18 L436.3 58.62 L436.8 58.07 L437.3 57.51 L437.8 56.96 L438.3 56.42 L438.8 55.9 L439.3 55.41 L439.8 54.93 L440.3 54.47 L440.8 54.01 L441.3 53.57 L441.8 53.13 L442.3 52.7 L442.8 52.27 L443.3 51.83 L443.8 51.4 L444.3 50.98 L444.8 50.57 L445.3 50.18 L445.8 49.81 L446.3 49.47 L446.8 49.14 L447.3 48.82 L447.8 48.51 L448.3 48.22 L448.8 47.95 L449.3 47.69 L449.8 47.45 L450.3 47.22 L450.8 47.01 L451.3 46.82 L451.8 46.63 L452.3 46.45 L452.8 46.27 L453.3 46.1 L453.8 45.93 L454.3 45.75 L454.8 45.57 L455.3 45.39 L455.8 45.2 L456.3 45.01 L456.8 44.81 L457.3 44.62 L457.8 44.42 L458.3 44.23 L458.8 44.03 L459.3 43.83 L459.8 43.63 L460.3 43.43 L460.8 43.23 L461.3 43.03 L461.8 42.84 L462.3 42.64 L462.8 42.44 L463.3 42.25 L463.8 42.05 L464.3 41.86 L464.8 41.67 L465.3 41.49 L465.8 41.3 L466.3 41.12 L466.8 40.95 L467.3 40.77 L467.8 40.6 L468.3 40.43 L468.8 40.27 L469.3 40.11 L469.8 39.96 L470.3 39.81 L470.8 39.67 L471.3 39.53 L471.8 39.39 L472.3 39.25 L472.8 39.12 L473.3 38.99 L473.8 38.87 L474.3 38.74 L474.8 38.62 L475.3 38.5 L475.8 38.38 L476.3 38.26 L476.8 38.14 L477.3 38.03 L477.8 37.91 L478.3 37.8 L478.8 37.68 L479.3 37.56 L479.8 37.45 L480.3 37.33 L480.8 37.22 L481.3 37.1 L481.8 36.98 L482.3 36.86 L482.8 36.73 L483.3 36.61 L483.8 36.48 L484.3 36.35 L484.8 36.22 L485.3 36.09 L485.8 35.95 L486.3 35.82 L486.8 35.68 L487.3 35.54 L487.8 35.4 L488.3 35.26 L488.8 35.12 L489.3 34.98 L489.8 34.83 L490.3 34.69 L490.8 34.55 L491.3 34.4 L491.8 34.26 L492.3 34.11 L492.8 33.97 L493.3 33.82 L493.8 33.68 L494.3 33.54 L494.8 33.39 L495.3 33.25 L495.8 33.11 L496.3 32.97 L496.8 32.83 L497.3 32.69 L497.8 32.55 L498.3 32.42 L498.8 32.28 L499.3 32.15 L499.8 32.01 L500.3 31.88 L500.8 31.76 L501.3 31.63 L501.8 31.5 L502.3 31.38 L502.8 31.25 L503.3 31.13 L503.8 31 L504.3 30.88 L504.8 30.76 L505.3 30.64 L505.8 30.52 L506.3 30.39 L506.8 30.27 L507.3 30.15 L507.8 30.02 L508.3 29.9 L508.8 29.77 L509.3 29.65 L509.8 29.52 L510.3 29.39 L510.8 29.26 L511.3 29.13 L511.8 29 L512.3 28.86 L512.8 28.72 L513.3 28.58 L513.8 28.44 L514.3 28.3 L514.8 28.16 L515.3 28.01 L515.8 27.87 L516.3 27.72 L516.8 27.57 L517.3 27.42 L517.8 27.27 L518.3 27.12 L518.8 26.96 L519.3 26.81 L519.8 26.65 L520.3 26.49 L520.8 26.32 L521.3 26.15 L521.8 25.98 L522.3 25.81 L522.8 25.64 L523.3 25.46 L523.8 25.27 L524.3 25.09 L524.8 24.9 L525.3 24.71 L525.8 24.52 L526.3 24.32 L526.8 24.12 L527.3 23.91 L527.8 23.69 L528.3 23.46 L528.8 23.22 L529.3 22.97 L529.8 22.71 L530.3 22.43 L530.8 22.11 L531.3 21.77 L531.8 21.4 L532.3 21.02 L532.8 20.62 L533.3 20.21 L533.8 19.79 L534.3 19.37 L534.8 18.95 L535.3 18.55 L535.8 18.15 L536.3 17.77 L536.8 17.39 L537.3 17.01 L537.8 16.64 L538.3 16.26 L538.8 15.88 L539.3 15.5 L539.8 15.13 L540.3 14.75 L540.8 14.38 L541.3 14 L541.8 13.63 L542.3 13.25 L542.8 12.88 L543.3 12.51 L543.8 12.14 L544.3 11.76 L544.8 11.39" fill="none" stroke="#9ddc9d" stroke-width="0.8" opacity="0.6"/>
<g fill="#009a00"><circle cx="361.8" cy="36.82" r="2.1"/><circle cx="364.85" cy="53.39" r="2.1"/><circle cx="367.9" cy="68.69" r="2.1"/><circle cx="370.95" cy="80.13" r="2.1"/><circle cx="374" cy="90.28" r="2.1"/><circle cx="377.05" cy="100.62" r="2.1"/><circle cx="380.1" cy="107.77" r="2.1"/><circle cx="383.15" cy="111.67" r="2.1"/><circle cx="386.2" cy="116.6" r="2.1"/><circle cx="389.25" cy="124.57" r="2.1"/><circle cx="395.35" cy="128.68" r="2.1"/><circle cx="398.4" cy="123.91" r="2.1"/><circle cx="401.45" cy="119.52" r="2.1"/><circle cx="404.5" cy="114.23" r="2.1"/><circle cx="407.55" cy="108.88" r="2.1"/><circle cx="410.6" cy="102.92" r="2.1"/><circle cx="413.65" cy="96.01" r="2.1"/><circle cx="416.7" cy="90" r="2.1"/><circle cx="419.75" cy="83.32" r="2.1"/><circle cx="422.8" cy="78.24" r="2.1"/><circle cx="425.85" cy="73.36" r="2.1"/><circle cx="428.9" cy="67.66" r="2.1"/><circle cx="431.95" cy="63.26" r="2.1"/><circle cx="435" cy="60.02" r="2.1"/><circle cx="438.05" cy="56.69" r="2.1"/><circle cx="441.1" cy="53.75" r="2.1"/><circle cx="444.15" cy="51.1" r="2.1"/><circle cx="447.2" cy="48.88" r="2.1"/><circle cx="450.25" cy="47.24" r="2.1"/><circle cx="453.3" cy="46.1" r="2.1"/><circle cx="456.5" cy="44.93" r="2.1"/><circle cx="458.5" cy="44.15" r="2.1"/><circle cx="460.5" cy="43.35" r="2.1"/><circle cx="462.5" cy="42.56" r="2.1"/><circle cx="464.5" cy="41.79" r="2.1"/><circle cx="466.5" cy="41.05" r="2.1"/><circle cx="468.5" cy="40.37" r="2.1"/><circle cx="470.5" cy="39.75" r="2.1"/><circle cx="472.5" cy="39.2" r="2.1"/><circle cx="474.5" cy="38.69" r="2.1"/><circle cx="476.5" cy="38.21" r="2.1"/><circle cx="478.5" cy="37.75" r="2.1"/><circle cx="480.5" cy="37.29" r="2.1"/><circle cx="482.5" cy="36.81" r="2.1"/><circle cx="484.5" cy="36.3" r="2.1"/><circle cx="486.5" cy="35.76" r="2.1"/><circle cx="488.5" cy="35.2" r="2.1"/><circle cx="490.5" cy="34.63" r="2.1"/><circle cx="492.5" cy="34.06" r="2.1"/><circle cx="494.5" cy="33.48" r="2.1"/><circle cx="496.5" cy="32.91" r="2.1"/><circle cx="498.5" cy="32.36" r="2.1"/><circle cx="500.5" cy="31.83" r="2.1"/><circle cx="502.5" cy="31.33" r="2.1"/><circle cx="504.5" cy="30.83" r="2.1"/><circle cx="506.5" cy="30.34" r="2.1"/><circle cx="508.5" cy="29.85" r="2.1"/><circle cx="510.5" cy="29.34" r="2.1"/><circle cx="512.5" cy="28.81" r="2.1"/><circle cx="514.5" cy="28.24" r="2.1"/><circle cx="516.5" cy="27.66" r="2.1"/><circle cx="518.5" cy="27.06" r="2.1"/><circle cx="520.5" cy="26.42" r="2.1"/><circle cx="522.5" cy="25.74" r="2.1"/><circle cx="524.5" cy="25.01" r="2.1"/><circle cx="526.5" cy="24.24" r="2.1"/><circle cx="528.5" cy="23.37" r="2.1"/><circle cx="530.5" cy="22.31" r="2.1"/><circle cx="532.5" cy="20.86" r="2.1"/><circle cx="534.5" cy="19.2" r="2.1"/><circle cx="536.5" cy="17.62" r="2.1"/><circle cx="538.5" cy="16.11" r="2.1"/><circle cx="540.5" cy="14.6" r="2.1"/><circle cx="542.5" cy="13.1" r="2.1"/><circle cx="544.5" cy="11.62" r="2.1"/></g>
<g fill="#d4f4d4"><circle cx="361.05" cy="36.02" r="0.84"/><circle cx="364.1" cy="52.59" r="0.84"/><circle cx="367.15" cy="67.89" r="0.84"/><circle cx="370.2" cy="79.33" r="0.84"/><circle cx="373.25" cy="89.48" r="0.84"/><circle cx="376.3" cy="99.82" r="0.84"/><circle cx="379.35" cy="106.97" r="0.84"/><circle cx="382.4" cy="110.87" r="0.84"/><circle cx="385.45" cy="115.8" r="0.84"/><circle cx="388.5" cy="123.77" r="0.84"/><circle cx="394.6" cy="127.88" r="0.84"/><circle cx="397.65" cy="123.11" r="0.84"/><circle cx="400.7" cy="118.72" r="0.84"/><circle cx="403.75" cy="113.43" r="0.84"/><circle cx="406.8" cy="108.08" r="0.84"/><circle cx="409.85" cy="102.12" r="0.84"/><circle cx="412.9" cy="95.21" r="0.84"/><circle cx="415.95" cy="89.2" r="0.84"/><circle cx="419" cy="82.52" r="0.84"/><circle cx="422.05" cy="77.44" r="0.84"/><circle cx="425.1" cy="72.56" r="0.84"/><circle cx="428.15" cy="66.86" r="0.84"/><circle cx="431.2" cy="62.46" r="0.84"/><circle cx="434.25" cy="59.22" r="0.84"/><circle cx="437.3" cy="55.89" r="0.84"/><circle cx="440.35" cy="52.95" r="0.84"/><circle cx="443.4" cy="50.3" r="0.84"/><circle cx="446.45" cy="48.08" r="0.84"/><circle cx="449.5" cy="46.44" r="0.84"/><circle cx="452.55" cy="45.3" r="0.84"/><circle cx="455.75" cy="44.13" r="0.84"/><circle cx="457.75" cy="43.35" r="0.84"/><circle cx="459.75" cy="42.55" r="0.84"/><circle cx="461.75" cy="41.76" r="0.84"/><circle cx="463.75" cy="40.99" r="0.84"/><circle cx="465.75" cy="40.25" r="0.84"/><circle cx="467.75" cy="39.57" r="0.84"/><circle cx="469.75" cy="38.95" r="0.84"/><circle cx="471.75" cy="38.4" r="0.84"/><circle cx="473.75" cy="37.89" r="0.84"/><circle cx="475.75" cy="37.41" r="0.84"/><circle cx="477.75" cy="36.95" r="0.84"/><circle cx="479.75" cy="36.49" r="0.84"/><circle cx="481.75" cy="36.01" r="0.84"/><circle cx="483.75" cy="35.5" r="0.84"/><circle cx="485.75" cy="34.96" r="0.84"/><circle cx="487.75" cy="34.4" r="0.84"/><circle cx="489.75" cy="33.83" r="0.84"/><circle cx="491.75" cy="33.26" r="0.84"/><circle cx="493.75" cy="32.68" r="0.84"/><circle cx="495.75" cy="32.11" r="0.84"/><circle cx="497.75" cy="31.56" r="0.84"/><circle cx="499.75" cy="31.03" r="0.84"/><circle cx="501.75" cy="30.53" r="0.84"/><circle cx="503.75" cy="30.03" r="0.84"/><circle cx="505.75" cy="29.54" r="0.84"/><circle cx="507.75" cy="29.05" r="0.84"/><circle cx="509.75" cy="28.54" r="0.84"/><circle cx="511.75" cy="28.01" r="0.84"/><circle cx="513.75" cy="27.44" r="0.84"/><circle cx="515.75" cy="26.86" r="0.84"/><circle cx="517.75" cy="26.26" r="0.84"/><circle cx="519.75" cy="25.62" r="0.84"/><circle cx="521.75" cy="24.94" r="0.84"/><circle cx="523.75" cy="24.21" r="0.84"/><circle cx="525.75" cy="23.44" r="0.84"/><circle cx="527.75" cy="22.57" r="0.84"/><circle cx="529.75" cy="21.51" r="0.84"/><circle cx="531.75" cy="20.06" r="0.84"/><circle cx="533.75" cy="18.4" r="0.84"/><circle cx="535.75" cy="16.82" r="0.84"/><circle cx="537.75" cy="15.31" r="0.84"/><circle cx="539.75" cy="13.8" r="0.84"/><circle cx="541.75" cy="12.3" r="0.84"/><circle cx="543.75" cy="10.82" r="0.84"/></g>
<text x="327.5" y="23.65" class="t" font-size="12" text-anchor="end" fill="#1a1a1a">0.0</text>
<text x="327.5" y="59.41" class="t" font-size="12" text-anchor="end" fill="#1a1a1a">-0.2</text>
<text x="327.5" y="95.17" class="t" font-size="12" text-anchor="end" fill="#1a1a1a">-0.4</text>
<text x="327.5" y="130.93" class="t" font-size="12" text-anchor="end" fill="#1a1a1a">-0.6</text>
<text x="327.5" y="166.69" class="t" font-size="12" text-anchor="end" fill="#1a1a1a">-0.8</text>
<text x="361.7" y="175.6" class="t" font-size="12" text-anchor="middle" fill="#1a1a1a">0</text>
<text x="423.16" y="175.6" class="t" font-size="12" text-anchor="middle" fill="#1a1a1a">2</text>
<text x="484.62" y="175.6" class="t" font-size="12" text-anchor="middle" fill="#1a1a1a">4</text>
<text x="546.08" y="175.6" class="t" font-size="12" text-anchor="middle" fill="#1a1a1a">6</text>
<text x="415" y="194.6" font-size="18" text-anchor="start" font-style="italic" fill="#1a1a1a">H</text>
<text x="428" y="201" font-size="11" text-anchor="start" font-style="italic" fill="#444">reverse</text>
<text transform="translate(299.6,92.5) rotate(-90)" font-size="16" text-anchor="middle" fill="#1a1a1a" font-style="italic">&#916;M</text>
<text x="542.8" y="150.5" font-size="17" text-anchor="end" fill="#1a1a1a">(b)</text>
<rect x="52.7" y="200.5" width="215.2" height="160.9" fill="none" stroke="#505050" stroke-width="1.0"/>
<line x1="78.9" y1="361.4" x2="78.9" y2="358.4" stroke="#505050" stroke-width="1"/>
<line x1="78.9" y1="200.5" x2="78.9" y2="203.5" stroke="#505050" stroke-width="1"/>
<line x1="131.4" y1="361.4" x2="131.4" y2="358.4" stroke="#505050" stroke-width="1"/>
<line x1="131.4" y1="200.5" x2="131.4" y2="203.5" stroke="#505050" stroke-width="1"/>
<line x1="183.9" y1="361.4" x2="183.9" y2="358.4" stroke="#505050" stroke-width="1"/>
<line x1="183.9" y1="200.5" x2="183.9" y2="203.5" stroke="#505050" stroke-width="1"/>
<line x1="236.4" y1="361.4" x2="236.4" y2="358.4" stroke="#505050" stroke-width="1"/>
<line x1="236.4" y1="200.5" x2="236.4" y2="203.5" stroke="#505050" stroke-width="1"/>
<line x1="105.15" y1="361.4" x2="105.15" y2="359.4" stroke="#505050" stroke-width="1"/>
<line x1="105.15" y1="200.5" x2="105.15" y2="202.5" stroke="#505050" stroke-width="1"/>
<line x1="157.65" y1="361.4" x2="157.65" y2="359.4" stroke="#505050" stroke-width="1"/>
<line x1="157.65" y1="200.5" x2="157.65" y2="202.5" stroke="#505050" stroke-width="1"/>
<line x1="210.15" y1="361.4" x2="210.15" y2="359.4" stroke="#505050" stroke-width="1"/>
<line x1="210.15" y1="200.5" x2="210.15" y2="202.5" stroke="#505050" stroke-width="1"/>
<line x1="262.65" y1="361.4" x2="262.65" y2="359.4" stroke="#505050" stroke-width="1"/>
<line x1="262.65" y1="200.5" x2="262.65" y2="202.5" stroke="#505050" stroke-width="1"/>
<line x1="52.7" y1="349" x2="55.7" y2="349" stroke="#505050" stroke-width="1"/>
<line x1="267.9" y1="349" x2="264.9" y2="349" stroke="#505050" stroke-width="1"/>
<line x1="52.7" y1="324.25" x2="55.7" y2="324.25" stroke="#505050" stroke-width="1"/>
<line x1="267.9" y1="324.25" x2="264.9" y2="324.25" stroke="#505050" stroke-width="1"/>
<line x1="52.7" y1="299.5" x2="55.7" y2="299.5" stroke="#505050" stroke-width="1"/>
<line x1="267.9" y1="299.5" x2="264.9" y2="299.5" stroke="#505050" stroke-width="1"/>
<line x1="52.7" y1="274.75" x2="55.7" y2="274.75" stroke="#505050" stroke-width="1"/>
<line x1="267.9" y1="274.75" x2="264.9" y2="274.75" stroke="#505050" stroke-width="1"/>
<line x1="52.7" y1="250" x2="55.7" y2="250" stroke="#505050" stroke-width="1"/>
<line x1="267.9" y1="250" x2="264.9" y2="250" stroke="#505050" stroke-width="1"/>
<line x1="52.7" y1="225.25" x2="55.7" y2="225.25" stroke="#505050" stroke-width="1"/>
<line x1="267.9" y1="225.25" x2="264.9" y2="225.25" stroke="#505050" stroke-width="1"/>
<line x1="52.7" y1="336.62" x2="54.7" y2="336.62" stroke="#505050" stroke-width="1"/>
<line x1="267.9" y1="336.62" x2="265.9" y2="336.62" stroke="#505050" stroke-width="1"/>
<line x1="52.7" y1="311.88" x2="54.7" y2="311.88" stroke="#505050" stroke-width="1"/>
<line x1="267.9" y1="311.88" x2="265.9" y2="311.88" stroke="#505050" stroke-width="1"/>
<line x1="52.7" y1="287.12" x2="54.7" y2="287.12" stroke="#505050" stroke-width="1"/>
<line x1="267.9" y1="287.12" x2="265.9" y2="287.12" stroke="#505050" stroke-width="1"/>
<line x1="52.7" y1="262.38" x2="54.7" y2="262.38" stroke="#505050" stroke-width="1"/>
<line x1="267.9" y1="262.38" x2="265.9" y2="262.38" stroke="#505050" stroke-width="1"/>
<line x1="52.7" y1="237.62" x2="54.7" y2="237.62" stroke="#505050" stroke-width="1"/>
<line x1="267.9" y1="237.62" x2="265.9" y2="237.62" stroke="#505050" stroke-width="1"/>
<line x1="52.7" y1="212.88" x2="54.7" y2="212.88" stroke="#505050" stroke-width="1"/>
<line x1="267.9" y1="212.88" x2="265.9" y2="212.88" stroke="#505050" stroke-width="1"/>
<path d="M79 342.59 L79.5 341.65 L80 340.77 L80.5 339.94 L81 339.19 L81.5 338.52 L82 337.96 L82.5 337.5 L83 337.13 L83.5 336.81 L84 336.53 L84.5 336.28 L85 336.05 L85.5 335.83 L86 335.62 L86.5 335.42 L87 335.23 L87.5 335.06 L88 334.89 L88.5 334.73 L89 334.57 L89.5 334.4 L90 334.25 L90.5 334.11 L91 333.97 L91.5 333.82 L92 333.65 L92.5 333.45 L93 333.2 L93.5 332.89 L94 332.54 L94.5 332.13 L95 331.69 L95.5 331.21 L96 330.7 L96.5 330.13 L97 329.49 L97.5 328.77 L98 327.98 L98.5 327.14 L99 326.24 L99.5 325.31 L100 324.29 L100.5 323.18 L101 321.98 L101.5 320.71 L102 319.36 L102.5 317.96 L103 316.51 L103.5 314.92 L104 313.22 L104.5 311.43 L105 309.58 L105.5 307.71 L106 305.84 L106.5 304 L107 302.15 L107.5 300.29 L108 298.4 L108.5 296.46 L109 294.48 L109.5 292.42 L110 290.26 L110.5 287.95 L111 285.56 L111.5 283.14 L112 280.74 L112.5 278.43 L113 276.24 L113.5 274.12 L114 272.05 L114.5 270.02 L115 268.03 L115.5 266.07 L116 264.14 L116.5 262.24 L117 260.38 L117.5 258.54 L118 256.74 L118.5 254.96 L119 253.19 L119.5 251.44 L120 249.7 L120.5 247.94 L121 246.17 L121.5 244.4 L122 242.66 L122.5 240.99 L123 239.4 L123.5 237.91 L124 236.51 L124.5 235.17 L125 233.88 L125.5 232.64 L126 231.44 L126.5 230.28 L127 229.15 L127.5 228.03 L128 226.93 L128.5 225.86 L129 224.86 L129.5 223.93 L130 223.1 L130.5 222.35 L131 221.65 L131.5 220.99 L132 220.37 L132.5 219.79 L133 219.23 L133.5 218.7 L134 218.19 L134.5 217.69 L135 217.21 L135.5 216.75 L136 216.32 L136.5 215.93 L137 215.57 L137.5 215.24 L138 214.91 L138.5 214.6 L139 214.31 L139.5 214.06 L140 213.85 L140.5 213.7 L141 213.58 L141.5 213.46 L142 213.35 L142.5 213.26 L143 213.18 L143.5 213.13 L144 213.1 L144.5 213.11 L145 213.18 L145.5 213.31 L146 213.47 L146.5 213.66 L147 213.86 L147.5 214.06 L148 214.27 L148.5 214.51 L149 214.78 L149.5 215.08 L150 215.4 L150.5 215.73 L151 216.08 L151.5 216.44 L152 216.8 L152.5 217.17 L153 217.53 L153.5 217.89 L154 218.25 L154.5 218.63 L155 219.01 L155.5 219.4 L156 219.8 L156.5 220.21 L157 220.62 L157.5 221.04 L158 221.46 L158.5 221.89 L159 222.33 L159.5 222.77 L160 223.21 L160.5 223.66 L161 224.13 L161.5 224.6 L162 225.09 L162.5 225.59 L163 226.09 L163.5 226.6 L164 227.12 L164.5 227.63 L165 228.16 L165.5 228.68 L166 229.2 L166.5 229.71 L167 230.23 L167.5 230.73 L168 231.23 L168.5 231.73 L169 232.21 L169.5 232.68 L170 233.15 L170.5 233.61 L171 234.08 L171.5 234.53 L172 234.99 L172.5 235.44 L173 235.88 L173.5 236.33 L174 236.77 L174.5 237.21 L175 237.65 L175.5 238.09 L176 238.53 L176.5 238.97 L177 239.41 L177.5 239.84 L178 240.28 L178.5 240.72 L179 241.16 L179.5 241.6 L180 242.04 L180.5 242.49 L181 242.93 L181.5 243.38 L182 243.83 L182.5 244.28 L183 244.74 L183.5 245.2 L184 245.65 L184.5 246.11 L185 246.57 L185.5 247.03 L186 247.49 L186.5 247.95 L187 248.41 L187.5 248.87 L188 249.33 L188.5 249.79 L189 250.24 L189.5 250.69 L190 251.14 L190.5 251.59 L191 252.03 L191.5 252.47 L192 252.9 L192.5 253.34 L193 253.76 L193.5 254.18 L194 254.6 L194.5 255.01 L195 255.41 L195.5 255.81 L196 256.21 L196.5 256.6 L197 256.99 L197.5 257.38 L198 257.76 L198.5 258.15 L199 258.53 L199.5 258.91 L200 259.3 L200.5 259.68 L201 260.07 L201.5 260.46 L202 260.86 L202.5 261.26 L203 261.66 L203.5 262.07 L204 262.48 L204.5 262.9 L205 263.32 L205.5 263.75 L206 264.18 L206.5 264.61 L207 265.04 L207.5 265.48 L208 265.92 L208.5 266.36 L209 266.8 L209.5 267.24 L210 267.69 L210.5 268.13 L211 268.58 L211.5 269.03 L212 269.48 L212.5 269.93 L213 270.38 L213.5 270.83 L214 271.28 L214.5 271.73 L215 272.18 L215.5 272.63 L216 273.08 L216.5 273.52 L217 273.97 L217.5 274.41 L218 274.85 L218.5 275.3 L219 275.74 L219.5 276.18 L220 276.62 L220.5 277.06 L221 277.51 L221.5 277.95 L222 278.39 L222.5 278.83 L223 279.28 L223.5 279.72 L224 280.17 L224.5 280.61 L225 281.06 L225.5 281.5 L226 281.95 L226.5 282.4 L227 282.85 L227.5 283.31 L228 283.77 L228.5 284.23 L229 284.69 L229.5 285.15 L230 285.62 L230.5 286.08 L231 286.55 L231.5 287.01 L232 287.47 L232.5 287.93 L233 288.38 L233.5 288.83 L234 289.27 L234.5 289.71 L235 290.14 L235.5 290.57 L236 290.99 L236.5 291.41 L237 291.82 L237.5 292.24 L238 292.64 L238.5 293.05 L239 293.45 L239.5 293.85 L240 294.25 L240.5 294.64 L241 295.03 L241.5 295.42 L242 295.81 L242.5 296.19 L243 296.57 L243.5 296.95 L244 297.33 L244.5 297.7 L245 298.07 L245.5 298.44 L246 298.81 L246.5 299.17 L247 299.53 L247.5 299.89 L248 300.25 L248.5 300.61 L249 300.96 L249.5 301.31 L250 301.66 L250.5 302 L251 302.34 L251.5 302.68 L252 303.01 L252.5 303.34 L253 303.66 L253.5 303.99 L254 304.3 L254.5 304.62 L255 304.93 L255.5 305.24 L256 305.54 L256.5 305.84 L257 306.14 L257.5 306.44 L258 306.74 L258.5 307.03 L259 307.32 L259.5 307.62 L260 307.91 L260.5 308.2 L261 308.49 L261.5 308.78 L262 309.07 L262.5 309.37 L263 309.65 L263.5 309.94 L264 310.23 L264.5 310.51 L265 310.8 L265.5 311.08 L266 311.36 L266.5 311.64 L267 311.92 L267.5 312.2 L268 312.48" fill="none" stroke="#8fd88f" stroke-width="0.9" opacity="1" stroke-dasharray="1.6 1.2"/>
<g fill="#009a00"><circle cx="79.1" cy="342.4" r="2.15"/><circle cx="82.52" cy="337.48" r="2.15"/><circle cx="85.94" cy="335.64" r="2.15"/><circle cx="89.36" cy="334.45" r="2.15"/><circle cx="92.78" cy="333.31" r="2.15"/><circle cx="96.2" cy="330.48" r="2.15"/><circle cx="99.62" cy="325.07" r="2.15"/><circle cx="103.04" cy="316.38" r="2.15"/><circle cx="106.46" cy="304.14" r="2.15"/><circle cx="109.88" cy="290.79" r="2.15"/><circle cx="113.3" cy="274.96" r="2.15"/><circle cx="116.72" cy="261.42" r="2.15"/><circle cx="120.14" cy="249.21" r="2.15"/><circle cx="123.56" cy="237.74" r="2.15"/><circle cx="126.98" cy="229.19" r="2.15"/><circle cx="130.4" cy="222.49" r="2.15"/><circle cx="133.82" cy="218.37" r="2.15"/><circle cx="137.24" cy="215.41" r="2.15"/><circle cx="140.66" cy="213.66" r="2.15"/><circle cx="144.08" cy="213.1" r="2.15"/><circle cx="147.5" cy="214.06" r="2.15"/><circle cx="150.92" cy="216.03" r="2.15"/><circle cx="154.34" cy="218.51" r="2.15"/><circle cx="157.76" cy="221.26" r="2.15"/><circle cx="161.18" cy="224.3" r="2.15"/><circle cx="164.6" cy="227.74" r="2.15"/><circle cx="168.02" cy="231.25" r="2.15"/><circle cx="171.44" cy="234.48" r="2.15"/><circle cx="174.86" cy="237.53" r="2.15"/><circle cx="178.28" cy="240.53" r="2.15"/><circle cx="181.7" cy="243.56" r="2.15"/><circle cx="185.12" cy="246.68" r="2.15"/><circle cx="188.54" cy="249.82" r="2.15"/><circle cx="191.96" cy="252.87" r="2.15"/><circle cx="195.38" cy="255.72" r="2.15"/><circle cx="198.8" cy="258.38" r="2.15"/><circle cx="202.22" cy="261.03" r="2.15"/><circle cx="205.64" cy="263.87" r="2.15"/><circle cx="209.06" cy="266.85" r="2.15"/><circle cx="212.48" cy="269.91" r="2.15"/><circle cx="215.9" cy="272.99" r="2.15"/><circle cx="219.32" cy="276.02" r="2.15"/><circle cx="222.74" cy="279.05" r="2.15"/><circle cx="226.16" cy="282.09" r="2.15"/><circle cx="229.58" cy="285.23" r="2.15"/><circle cx="233" cy="288.38" r="2.15"/><circle cx="236.42" cy="291.34" r="2.15"/><circle cx="239.84" cy="294.12" r="2.15"/><circle cx="243.26" cy="296.77" r="2.15"/><circle cx="246.68" cy="299.3" r="2.15"/><circle cx="250.1" cy="301.72" r="2.15"/><circle cx="253.52" cy="304" r="2.15"/><circle cx="256.94" cy="306.11" r="2.15"/><circle cx="260.36" cy="308.12" r="2.15"/><circle cx="263.78" cy="310.1" r="2.15"/><circle cx="267.2" cy="312.03" r="2.15"/></g>
<g fill="#d4f4d4"><circle cx="78.35" cy="341.6" r="0.86"/><circle cx="81.77" cy="336.68" r="0.86"/><circle cx="85.19" cy="334.84" r="0.86"/><circle cx="88.61" cy="333.65" r="0.86"/><circle cx="92.03" cy="332.51" r="0.86"/><circle cx="95.45" cy="329.68" r="0.86"/><circle cx="98.87" cy="324.27" r="0.86"/><circle cx="102.29" cy="315.58" r="0.86"/><circle cx="105.71" cy="303.34" r="0.86"/><circle cx="109.13" cy="289.99" r="0.86"/><circle cx="112.55" cy="274.16" r="0.86"/><circle cx="115.97" cy="260.62" r="0.86"/><circle cx="119.39" cy="248.41" r="0.86"/><circle cx="122.81" cy="236.94" r="0.86"/><circle cx="126.23" cy="228.39" r="0.86"/><circle cx="129.65" cy="221.69" r="0.86"/><circle cx="133.07" cy="217.57" r="0.86"/><circle cx="136.49" cy="214.61" r="0.86"/><circle cx="139.91" cy="212.86" r="0.86"/><circle cx="143.33" cy="212.3" r="0.86"/><circle cx="146.75" cy="213.26" r="0.86"/><circle cx="150.17" cy="215.23" r="0.86"/><circle cx="153.59" cy="217.71" r="0.86"/><circle cx="157.01" cy="220.46" r="0.86"/><circle cx="160.43" cy="223.5" r="0.86"/><circle cx="163.85" cy="226.94" r="0.86"/><circle cx="167.27" cy="230.45" r="0.86"/><circle cx="170.69" cy="233.68" r="0.86"/><circle cx="174.11" cy="236.73" r="0.86"/><circle cx="177.53" cy="239.73" r="0.86"/><circle cx="180.95" cy="242.76" r="0.86"/><circle cx="184.37" cy="245.88" r="0.86"/><circle cx="187.79" cy="249.02" r="0.86"/><circle cx="191.21" cy="252.07" r="0.86"/><circle cx="194.63" cy="254.92" r="0.86"/><circle cx="198.05" cy="257.58" r="0.86"/><circle cx="201.47" cy="260.23" r="0.86"/><circle cx="204.89" cy="263.07" r="0.86"/><circle cx="208.31" cy="266.05" r="0.86"/><circle cx="211.73" cy="269.11" r="0.86"/><circle cx="215.15" cy="272.19" r="0.86"/><circle cx="218.57" cy="275.22" r="0.86"/><circle cx="221.99" cy="278.25" r="0.86"/><circle cx="225.41" cy="281.29" r="0.86"/><circle cx="228.83" cy="284.43" r="0.86"/><circle cx="232.25" cy="287.58" r="0.86"/><circle cx="235.67" cy="290.54" r="0.86"/><circle cx="239.09" cy="293.32" r="0.86"/><circle cx="242.51" cy="295.97" r="0.86"/><circle cx="245.93" cy="298.5" r="0.86"/><circle cx="249.35" cy="300.92" r="0.86"/><circle cx="252.77" cy="303.2" r="0.86"/><circle cx="256.19" cy="305.31" r="0.86"/><circle cx="259.61" cy="307.32" r="0.86"/><circle cx="263.03" cy="309.3" r="0.86"/><circle cx="266.45" cy="311.23" r="0.86"/></g>
<g fill="#fff" stroke="#9edc9e" stroke-width="0.9"><circle cx="78.5" cy="231.2" r="2.0"/><circle cx="82.1" cy="232.2" r="2.0"/><circle cx="85.7" cy="233.47" r="2.0"/><circle cx="89.3" cy="234.53" r="2.0"/><circle cx="92.9" cy="235.77" r="2.0"/><circle cx="96.5" cy="236.8" r="2.0"/><circle cx="100.1" cy="237.68" r="2.0"/><circle cx="103.7" cy="238.3" r="2.0"/><circle cx="107.3" cy="238.48" r="2.0"/><circle cx="110.9" cy="238.1" r="2.0"/><circle cx="114.5" cy="236.7" r="2.0"/><circle cx="118.1" cy="234.23" r="2.0"/><circle cx="121.7" cy="231.12" r="2.0"/><circle cx="125.3" cy="226.19" r="2.0"/><circle cx="128.9" cy="221.3" r="2.0"/><circle cx="132.5" cy="217.47" r="2.0"/><circle cx="136.1" cy="214.41" r="2.0"/><circle cx="139.7" cy="211.66" r="2.0"/><circle cx="143.3" cy="210.56" r="2.0"/><circle cx="146.9" cy="211.13" r="2.0"/><circle cx="150.5" cy="213.33" r="2.0"/><circle cx="154.1" cy="216.41" r="2.0"/><circle cx="157.7" cy="219.44" r="2.0"/><circle cx="161.3" cy="222.75" r="2.0"/><circle cx="164.9" cy="226.49" r="2.0"/><circle cx="168.5" cy="230.29" r="2.0"/><circle cx="172.1" cy="233.86" r="2.0"/><circle cx="175.7" cy="237.33" r="2.0"/><circle cx="179.3" cy="240.82" r="2.0"/><circle cx="182.9" cy="244.44" r="2.0"/><circle cx="186.5" cy="248.29" r="2.0"/><circle cx="190.1" cy="252.11" r="2.0"/><circle cx="193.7" cy="255.57" r="2.0"/><circle cx="197.3" cy="258.54" r="2.0"/><circle cx="200.9" cy="261.3" r="2.0"/><circle cx="204.5" cy="264.21" r="2.0"/><circle cx="208.1" cy="267.32" r="2.0"/><circle cx="211.7" cy="270.52" r="2.0"/><circle cx="215.3" cy="273.79" r="2.0"/><circle cx="218.9" cy="277.11" r="2.0"/><circle cx="222.5" cy="280.52" r="2.0"/><circle cx="226.1" cy="283.93" r="2.0"/><circle cx="229.7" cy="287.28" r="2.0"/><circle cx="233.3" cy="290.56" r="2.0"/><circle cx="236.9" cy="293.64" r="2.0"/><circle cx="240.5" cy="296.54" r="2.0"/><circle cx="244.1" cy="299.3" r="2.0"/><circle cx="247.7" cy="301.94" r="2.0"/><circle cx="251.3" cy="304.44" r="2.0"/><circle cx="254.9" cy="306.77" r="2.0"/><circle cx="258.5" cy="308.93" r="2.0"/><circle cx="262.1" cy="311.03" r="2.0"/><circle cx="265.7" cy="313.09" r="2.0"/></g>
<text x="49" y="352.6" class="t" font-size="12" text-anchor="end" fill="#1a1a1a">0.001</text>
<text x="49" y="327.85" class="t" font-size="12" text-anchor="end" fill="#1a1a1a">0.002</text>
<text x="49" y="303.1" class="t" font-size="12" text-anchor="end" fill="#1a1a1a">0.003</text>
<text x="49" y="278.35" class="t" font-size="12" text-anchor="end" fill="#1a1a1a">0.004</text>
<text x="49" y="253.6" class="t" font-size="12" text-anchor="end" fill="#1a1a1a">0.005</text>
<text x="49" y="228.85" class="t" font-size="12" text-anchor="end" fill="#1a1a1a">0.006</text>
<text x="49" y="204.1" class="t" font-size="12" text-anchor="end" fill="#1a1a1a">0.007</text>
<text x="78.9" y="374.3" class="t" font-size="12" text-anchor="middle" fill="#1a1a1a">0.0</text>
<text x="131.4" y="374.3" class="t" font-size="12" text-anchor="middle" fill="#1a1a1a">0.5</text>
<text x="183.9" y="374.3" class="t" font-size="12" text-anchor="middle" fill="#1a1a1a">1.0</text>
<text x="236.4" y="374.3" class="t" font-size="12" text-anchor="middle" fill="#1a1a1a">1.5</text>
<text x="158.9" y="393.6" font-size="18" text-anchor="middle" font-style="italic" fill="#1a1a1a">H</text>
<text transform="translate(13.6,289.3) rotate(-90)" font-size="16" text-anchor="middle" fill="#1a1a1a"><tspan font-style="italic">M</tspan> /spin</text>
<text x="267.5" y="349.7" font-size="18" text-anchor="end" fill="#1a1a1a">(c)</text>
<line x1="171" y1="212" x2="197" y2="212" stroke="#9ddc9d" stroke-width="1"/>
<g fill="#009a00"><circle cx="184.4" cy="212" r="2.1"/></g>
<g fill="#d4f4d4"><circle cx="183.65" cy="211.2" r="0.84"/></g>
<text x="198" y="216.2" class="t" font-size="12" text-anchor="start" fill="#1a1a1a">ZFC</text>
<line x1="223" y1="212" x2="250" y2="212" stroke="#9ddc9d" stroke-width="1"/>
<g fill="#fff" stroke="#8fd88f" stroke-width="1.0"><circle cx="236.6" cy="212" r="2.0"/></g>
<text x="253" y="216.2" class="t" font-size="12" text-anchor="start" fill="#1a1a1a">FC</text>
<text x="213" y="231.2" class="t" font-size="12" text-anchor="start" fill="#1a1a1a">MFO</text>
<rect x="330.1" y="202.8" width="215.2" height="161" fill="none" stroke="#505050" stroke-width="1.0"/>
<line x1="356.2" y1="363.8" x2="356.2" y2="360.8" stroke="#505050" stroke-width="1"/>
<line x1="356.2" y1="202.8" x2="356.2" y2="205.8" stroke="#505050" stroke-width="1"/>
<line x1="408.7" y1="363.8" x2="408.7" y2="360.8" stroke="#505050" stroke-width="1"/>
<line x1="408.7" y1="202.8" x2="408.7" y2="205.8" stroke="#505050" stroke-width="1"/>
<line x1="461.2" y1="363.8" x2="461.2" y2="360.8" stroke="#505050" stroke-width="1"/>
<line x1="461.2" y1="202.8" x2="461.2" y2="205.8" stroke="#505050" stroke-width="1"/>
<line x1="513.7" y1="363.8" x2="513.7" y2="360.8" stroke="#505050" stroke-width="1"/>
<line x1="513.7" y1="202.8" x2="513.7" y2="205.8" stroke="#505050" stroke-width="1"/>
<line x1="382.45" y1="363.8" x2="382.45" y2="361.8" stroke="#505050" stroke-width="1"/>
<line x1="382.45" y1="202.8" x2="382.45" y2="204.8" stroke="#505050" stroke-width="1"/>
<line x1="434.95" y1="363.8" x2="434.95" y2="361.8" stroke="#505050" stroke-width="1"/>
<line x1="434.95" y1="202.8" x2="434.95" y2="204.8" stroke="#505050" stroke-width="1"/>
<line x1="487.45" y1="363.8" x2="487.45" y2="361.8" stroke="#505050" stroke-width="1"/>
<line x1="487.45" y1="202.8" x2="487.45" y2="204.8" stroke="#505050" stroke-width="1"/>
<line x1="539.95" y1="363.8" x2="539.95" y2="361.8" stroke="#505050" stroke-width="1"/>
<line x1="539.95" y1="202.8" x2="539.95" y2="204.8" stroke="#505050" stroke-width="1"/>
<line x1="330.1" y1="351.24" x2="333.1" y2="351.24" stroke="#505050" stroke-width="1"/>
<line x1="545.3" y1="351.24" x2="542.3" y2="351.24" stroke="#505050" stroke-width="1"/>
<line x1="330.1" y1="326.5" x2="333.1" y2="326.5" stroke="#505050" stroke-width="1"/>
<line x1="545.3" y1="326.5" x2="542.3" y2="326.5" stroke="#505050" stroke-width="1"/>
<line x1="330.1" y1="301.76" x2="333.1" y2="301.76" stroke="#505050" stroke-width="1"/>
<line x1="545.3" y1="301.76" x2="542.3" y2="301.76" stroke="#505050" stroke-width="1"/>
<line x1="330.1" y1="277.02" x2="333.1" y2="277.02" stroke="#505050" stroke-width="1"/>
<line x1="545.3" y1="277.02" x2="542.3" y2="277.02" stroke="#505050" stroke-width="1"/>
<line x1="330.1" y1="252.28" x2="333.1" y2="252.28" stroke="#505050" stroke-width="1"/>
<line x1="545.3" y1="252.28" x2="542.3" y2="252.28" stroke="#505050" stroke-width="1"/>
<line x1="330.1" y1="227.54" x2="333.1" y2="227.54" stroke="#505050" stroke-width="1"/>
<line x1="545.3" y1="227.54" x2="542.3" y2="227.54" stroke="#505050" stroke-width="1"/>
<line x1="330.1" y1="338.87" x2="332.1" y2="338.87" stroke="#505050" stroke-width="1"/>
<line x1="545.3" y1="338.87" x2="543.3" y2="338.87" stroke="#505050" stroke-width="1"/>
<line x1="330.1" y1="314.13" x2="332.1" y2="314.13" stroke="#505050" stroke-width="1"/>
<line x1="545.3" y1="314.13" x2="543.3" y2="314.13" stroke="#505050" stroke-width="1"/>
<line x1="330.1" y1="289.39" x2="332.1" y2="289.39" stroke="#505050" stroke-width="1"/>
<line x1="545.3" y1="289.39" x2="543.3" y2="289.39" stroke="#505050" stroke-width="1"/>
<line x1="330.1" y1="264.65" x2="332.1" y2="264.65" stroke="#505050" stroke-width="1"/>
<line x1="545.3" y1="264.65" x2="543.3" y2="264.65" stroke="#505050" stroke-width="1"/>
<line x1="330.1" y1="239.91" x2="332.1" y2="239.91" stroke="#505050" stroke-width="1"/>
<line x1="545.3" y1="239.91" x2="543.3" y2="239.91" stroke="#505050" stroke-width="1"/>
<line x1="330.1" y1="215.17" x2="332.1" y2="215.17" stroke="#505050" stroke-width="1"/>
<line x1="545.3" y1="215.17" x2="543.3" y2="215.17" stroke="#505050" stroke-width="1"/>
<path d="M355.6 216.7 L356.1 216.96 L356.6 217.22 L357.1 217.5 L357.6 217.79 L358.1 218.08 L358.6 218.39 L359.1 218.7 L359.6 219.03 L360.1 219.37 L360.6 219.73 L361.1 220.1 L361.6 220.46 L362.1 220.82 L362.6 221.17 L363.1 221.51 L363.6 221.86 L364.1 222.2 L364.6 222.54 L365.1 222.87 L365.6 223.19 L366.1 223.5 L366.6 223.8 L367.1 224.11 L367.6 224.41 L368.1 224.7 L368.6 224.97 L369.1 225.23 L369.6 225.46 L370.1 225.67 L370.6 225.86 L371.1 226.05 L371.6 226.23 L372.1 226.39 L372.6 226.54 L373.1 226.67 L373.6 226.8 L374.1 226.93 L374.6 227.06 L375.1 227.18 L375.6 227.29 L376.1 227.38 L376.6 227.45 L377.1 227.49 L377.6 227.52 L378.1 227.54 L378.6 227.55 L379.1 227.57 L379.6 227.58 L380.1 227.59 L380.6 227.6 L381.1 227.6 L381.6 227.59 L382.1 227.54 L382.6 227.47 L383.1 227.38 L383.6 227.28 L384.1 227.16 L384.6 227.04 L385.1 226.92 L385.6 226.8 L386.1 226.67 L386.6 226.52 L387.1 226.36 L387.6 226.19 L388.1 226.02 L388.6 225.84 L389.1 225.67 L389.6 225.5 L390.1 225.32 L390.6 225.15 L391.1 224.97 L391.6 224.78 L392.1 224.59 L392.6 224.39 L393.1 224.18 L393.6 223.97 L394.1 223.74 L394.6 223.49 L395.1 223.24 L395.6 222.98 L396.1 222.72 L396.6 222.46 L397.1 222.2 L397.6 221.95 L398.1 221.7 L398.6 221.45 L399.1 221.19 L399.6 220.94 L400.1 220.69 L400.6 220.44 L401.1 220.2 L401.6 219.95 L402.1 219.69 L402.6 219.43 L403.1 219.16 L403.6 218.89 L404.1 218.64 L404.6 218.41 L405.1 218.2 L405.6 218.02 L406.1 217.87 L406.6 217.74 L407.1 217.61 L407.6 217.49 L408.1 217.38 L408.6 217.28 L409.1 217.2 L409.6 217.14 L410.1 217.11 L410.6 217.1 L411.1 217.12 L411.6 217.14 L412.1 217.19 L412.6 217.24 L413.1 217.3 L413.6 217.37 L414.1 217.45 L414.6 217.54 L415.1 217.66 L415.6 217.84 L416.1 218.05 L416.6 218.3 L417.1 218.58 L417.6 218.89 L418.1 219.22 L418.6 219.57 L419.1 220.01 L419.6 220.55 L420.1 221.17 L420.6 221.84 L421.1 222.54 L421.6 223.24 L422.1 223.98 L422.6 224.78 L423.1 225.62 L423.6 226.5 L424.1 227.43 L424.6 228.4 L425.1 229.47 L425.6 230.63 L426.1 231.85 L426.6 233.06 L427.1 234.23 L427.6 235.3 L428.1 236.28 L428.6 237.2 L429.1 238.1 L429.6 238.96 L430.1 239.82 L430.6 240.67 L431.1 241.53 L431.6 242.39 L432.1 243.25 L432.6 244.1 L433.1 244.94 L433.6 245.79 L434.1 246.65 L434.6 247.52 L435.1 248.41 L435.6 249.31 L436.1 250.21 L436.6 251.12 L437.1 252.05 L437.6 252.97 L438.1 253.91 L438.6 254.87 L439.1 255.85 L439.6 256.85 L440.1 257.85 L440.6 258.84 L441.1 259.81 L441.6 260.74 L442.1 261.63 L442.6 262.48 L443.1 263.31 L443.6 264.12 L444.1 264.92 L444.6 265.7 L445.1 266.49 L445.6 267.27 L446.1 268.05 L446.6 268.82 L447.1 269.59 L447.6 270.34 L448.1 271.08 L448.6 271.81 L449.1 272.53 L449.6 273.24 L450.1 273.93 L450.6 274.62 L451.1 275.3 L451.6 275.96 L452.1 276.62 L452.6 277.25 L453.1 277.88 L453.6 278.5 L454.1 279.11 L454.6 279.71 L455.1 280.29 L455.6 280.86 L456.1 281.42 L456.6 281.97 L457.1 282.52 L457.6 283.05 L458.1 283.59 L458.6 284.11 L459.1 284.63 L459.6 285.14 L460.1 285.64 L460.6 286.14 L461.1 286.62 L461.6 287.1 L462.1 287.57 L462.6 288.03 L463.1 288.48 L463.6 288.92 L464.1 289.35 L464.6 289.78 L465.1 290.19 L465.6 290.6 L466.1 291.01 L466.6 291.41 L467.1 291.8 L467.6 292.19 L468.1 292.58 L468.6 292.97 L469.1 293.35 L469.6 293.73 L470.1 294.11 L470.6 294.49 L471.1 294.87 L471.6 295.25 L472.1 295.63 L472.6 296 L473.1 296.38 L473.6 296.74 L474.1 297.11 L474.6 297.47 L475.1 297.83 L475.6 298.19 L476.1 298.54 L476.6 298.9 L477.1 299.26 L477.6 299.62 L478.1 299.97 L478.6 300.34 L479.1 300.7 L479.6 301.07 L480.1 301.44 L480.6 301.81 L481.1 302.19 L481.6 302.58 L482.1 302.98 L482.6 303.39 L483.1 303.81 L483.6 304.25 L484.1 304.69 L484.6 305.13 L485.1 305.58 L485.6 306.03 L486.1 306.47 L486.6 306.91 L487.1 307.34 L487.6 307.77 L488.1 308.18 L488.6 308.57 L489.1 308.95 L489.6 309.31 L490.1 309.65 L490.6 309.96 L491.1 310.26 L491.6 310.55 L492.1 310.84 L492.6 311.12 L493.1 311.39 L493.6 311.66 L494.1 311.92 L494.6 312.17 L495.1 312.42 L495.6 312.66 L496.1 312.9 L496.6 313.13 L497.1 313.36 L497.6 313.59 L498.1 313.82 L498.6 314.04 L499.1 314.25 L499.6 314.47 L500.1 314.68 L500.6 314.89 L501.1 315.11 L501.6 315.32 L502.1 315.52 L502.6 315.73 L503.1 315.94 L503.6 316.15 L504.1 316.36 L504.6 316.57 L505.1 316.79 L505.6 317 L506.1 317.22 L506.6 317.43 L507.1 317.64 L507.6 317.86 L508.1 318.07 L508.6 318.28 L509.1 318.49 L509.6 318.7 L510.1 318.91 L510.6 319.12 L511.1 319.33 L511.6 319.53 L512.1 319.74 L512.6 319.94 L513.1 320.14 L513.6 320.34 L514.1 320.54 L514.6 320.74 L515.1 320.93 L515.6 321.13 L516.1 321.32 L516.6 321.51 L517.1 321.7 L517.6 321.89 L518.1 322.07 L518.6 322.26 L519.1 322.44 L519.6 322.62 L520.1 322.79 L520.6 322.97 L521.1 323.14 L521.6 323.31 L522.1 323.48 L522.6 323.64 L523.1 323.81 L523.6 323.97 L524.1 324.13 L524.6 324.29 L525.1 324.45 L525.6 324.61 L526.1 324.76 L526.6 324.92 L527.1 325.07 L527.6 325.22 L528.1 325.38 L528.6 325.53 L529.1 325.67 L529.6 325.82 L530.1 325.97 L530.6 326.12 L531.1 326.26 L531.6 326.41 L532.1 326.55 L532.6 326.69 L533.1 326.84 L533.6 326.98 L534.1 327.12 L534.6 327.26 L535.1 327.4 L535.6 327.54 L536.1 327.68 L536.6 327.82 L537.1 327.96 L537.6 328.1 L538.1 328.24 L538.6 328.37 L539.1 328.51 L539.6 328.64 L540.1 328.77 L540.6 328.9 L541.1 329.03 L541.6 329.16 L542.1 329.29 L542.6 329.42 L543.1 329.55 L543.6 329.67 L544.1 329.8 L544.6 329.93" fill="none" stroke="#b8ecf2" stroke-width="0.9" opacity="1"/>
<path d="M356.3 351.6 L356.8 352.06 L357.3 352.44 L357.8 352.74 L358.3 352.97 L358.8 353.12 L359.3 353.19 L359.8 353.18 L360.3 353.07 L360.8 352.87 L361.3 352.6 L361.8 352.28 L362.3 351.92 L362.8 351.54 L363.3 351.13 L363.8 350.59 L364.3 349.92 L364.8 349.14 L365.3 348.29 L365.8 347.39 L366.3 346.47 L366.8 345.54 L367.3 344.53 L367.8 343.45 L368.3 342.32 L368.8 341.13 L369.3 339.9 L369.8 338.65 L370.3 337.37 L370.8 336.02 L371.3 334.61 L371.8 333.17 L372.3 331.69 L372.8 330.2 L373.3 328.7 L373.8 327.18 L374.3 325.63 L374.8 324.06 L375.3 322.47 L375.8 320.87 L376.3 319.27 L376.8 317.68 L377.3 316.1 L377.8 314.51 L378.3 312.92 L378.8 311.33 L379.3 309.74 L379.8 308.15 L380.3 306.57 L380.8 304.98 L381.3 303.4 L381.8 301.81 L382.3 300.23 L382.8 298.67 L383.3 297.12 L383.8 295.58 L384.3 294.06 L384.8 292.54 L385.3 291.04 L385.8 289.54 L386.3 288.06 L386.8 286.59 L387.3 285.12 L387.8 283.64 L388.3 282.16 L388.8 280.7 L389.3 279.28 L389.8 277.91 L390.3 276.6 L390.8 275.36 L391.3 274.18 L391.8 273.03 L392.3 271.92 L392.8 270.82 L393.3 269.72 L393.8 268.62 L394.3 267.5 L394.8 266.37 L395.3 265.23 L395.8 264.11 L396.3 263.03 L396.8 261.98 L397.3 261 L397.8 260.07 L398.3 259.18 L398.8 258.31 L399.3 257.48 L399.8 256.68 L400.3 255.9 L400.8 255.15 L401.3 254.42 L401.8 253.7 L402.3 253.01 L402.8 252.35 L403.3 251.72 L403.8 251.12 L404.3 250.57 L404.8 250.05 L405.3 249.55 L405.8 249.07 L406.3 248.62 L406.8 248.19 L407.3 247.78 L407.8 247.39 L408.3 247.02 L408.8 246.67 L409.3 246.33 L409.8 246.01 L410.3 245.7 L410.8 245.41 L411.3 245.13 L411.8 244.82 L412.3 244.5 L412.8 244.21 L413.3 243.96 L413.8 243.78 L414.3 243.7 L414.8 243.7 L415.3 243.7 L415.8 243.7 L416.3 243.7 L416.8 243.7 L417.3 243.7 L417.8 243.7 L418.3 243.76 L418.8 243.91 L419.3 244.14 L419.8 244.43 L420.3 244.76 L420.8 245.1 L421.3 245.44 L421.8 245.86 L422.3 246.35 L422.8 246.9 L423.3 247.48 L423.8 248.08 L424.3 248.67 L424.8 249.24 L425.3 249.81 L425.8 250.38 L426.3 250.97 L426.8 251.58 L427.3 252.22 L427.8 252.91 L428.3 253.65 L428.8 254.5 L429.3 255.45 L429.8 256.46 L430.3 257.47 L430.8 258.46 L431.3 259.38 L431.8 260.25 L432.3 261.1 L432.8 261.94 L433.3 262.76 L433.8 263.57 L434.3 264.37 L434.8 265.16 L435.3 265.95 L435.8 266.74 L436.3 267.52 L436.8 268.28 L437.3 269.03 L437.8 269.75 L438.3 270.43 L438.8 271.09 L439.3 271.72 L439.8 272.33 L440.3 272.93 L440.8 273.52 L441.3 274.11 L441.8 274.7 L442.3 275.3 L442.8 275.9 L443.3 276.5 L443.8 277.09 L444.3 277.68 L444.8 278.25 L445.3 278.8 L445.8 279.34 L446.3 279.88 L446.8 280.42 L447.3 280.94 L447.8 281.47 L448.3 281.98 L448.8 282.49 L449.3 282.99 L449.8 283.47 L450.3 283.95 L450.8 284.41 L451.3 284.86 L451.8 285.3 L452.3 285.72 L452.8 286.13 L453.3 286.52 L453.8 286.9 L454.3 287.28 L454.8 287.65 L455.3 288.01 L455.8 288.36 L456.3 288.72 L456.8 289.08 L457.3 289.43 L457.8 289.79 L458.3 290.15 L458.8 290.52 L459.3 290.9 L459.8 291.28 L460.3 291.67 L460.8 292.06 L461.3 292.45 L461.8 292.84 L462.3 293.23 L462.8 293.62 L463.3 294 L463.8 294.38 L464.3 294.75 L464.8 295.12 L465.3 295.48 L465.8 295.83 L466.3 296.17 L466.8 296.51 L467.3 296.85 L467.8 297.18 L468.3 297.51 L468.8 297.83 L469.3 298.15 L469.8 298.47 L470.3 298.78 L470.8 299.09 L471.3 299.4 L471.8 299.7 L472.3 299.99 L472.8 300.29 L473.3 300.58 L473.8 300.86 L474.3 301.14 L474.8 301.42 L475.3 301.69 L475.8 301.96 L476.3 302.23 L476.8 302.49 L477.3 302.75 L477.8 303 L478.3 303.25 L478.8 303.5 L479.3 303.75 L479.8 303.99 L480.3 304.24 L480.8 304.48 L481.3 304.72 L481.8 304.96 L482.3 305.2 L482.8 305.44 L483.3 305.67 L483.8 305.91 L484.3 306.15 L484.8 306.39 L485.3 306.63 L485.8 306.87 L486.3 307.11 L486.8 307.34 L487.3 307.58 L487.8 307.82 L488.3 308.05 L488.8 308.28 L489.3 308.52 L489.8 308.75 L490.3 308.98 L490.8 309.22 L491.3 309.45 L491.8 309.68 L492.3 309.9 L492.8 310.13 L493.3 310.36 L493.8 310.59 L494.3 310.81 L494.8 311.04 L495.3 311.26 L495.8 311.48 L496.3 311.71 L496.8 311.93 L497.3 312.15 L497.8 312.36 L498.3 312.58 L498.8 312.8 L499.3 313.01 L499.8 313.23 L500.3 313.44 L500.8 313.66 L501.3 313.87 L501.8 314.09 L502.3 314.3 L502.8 314.52 L503.3 314.73 L503.8 314.95 L504.3 315.16 L504.8 315.37 L505.3 315.58 L505.8 315.79 L506.3 316 L506.8 316.21 L507.3 316.42 L507.8 316.62 L508.3 316.83 L508.8 317.03 L509.3 317.23 L509.8 317.43 L510.3 317.62 L510.8 317.82 L511.3 318.01 L511.8 318.19 L512.3 318.38 L512.8 318.56 L513.3 318.74 L513.8 318.92 L514.3 319.1 L514.8 319.27 L515.3 319.44 L515.8 319.61 L516.3 319.77 L516.8 319.94 L517.3 320.1 L517.8 320.26 L518.3 320.42 L518.8 320.58 L519.3 320.74 L519.8 320.9 L520.3 321.05 L520.8 321.2 L521.3 321.35 L521.8 321.5 L522.3 321.65 L522.8 321.8 L523.3 321.94 L523.8 322.09 L524.3 322.23 L524.8 322.37 L525.3 322.51 L525.8 322.65 L526.3 322.79 L526.8 322.92 L527.3 323.05 L527.8 323.19 L528.3 323.32 L528.8 323.45 L529.3 323.57 L529.8 323.7 L530.3 323.82 L530.8 323.95 L531.3 324.07 L531.8 324.19 L532.3 324.31 L532.8 324.43 L533.3 324.55 L533.8 324.67 L534.3 324.79 L534.8 324.9 L535.3 325.02 L535.8 325.13 L536.3 325.24 L536.8 325.35 L537.3 325.46 L537.8 325.57 L538.3 325.68 L538.8 325.79 L539.3 325.89 L539.8 325.99 L540.3 326.1 L540.8 326.2 L541.3 326.3 L541.8 326.39 L542.3 326.49 L542.8 326.59 L543.3 326.68 L543.8 326.77 L544.3 326.86 L544.8 326.95" fill="none" stroke="#8fd8dc" stroke-width="0.9" opacity="1"/>
<g fill="#03929a" opacity="1"><circle cx="356.3" cy="351.6" r="2.15"/><circle cx="359.75" cy="353.19" r="2.15"/><circle cx="363.2" cy="351.22" r="2.15"/><circle cx="366.65" cy="345.82" r="2.15"/><circle cx="370.1" cy="337.89" r="2.15"/><circle cx="373.55" cy="327.95" r="2.15"/><circle cx="377" cy="317.05" r="2.15"/><circle cx="380.45" cy="306.09" r="2.15"/><circle cx="383.9" cy="295.27" r="2.15"/><circle cx="387.35" cy="284.98" r="2.15"/><circle cx="390.8" cy="275.36" r="2.15"/><circle cx="394.25" cy="267.62" r="2.15"/><circle cx="397.7" cy="260.25" r="2.15"/><circle cx="401.15" cy="254.64" r="2.15"/><circle cx="404.6" cy="250.25" r="2.15"/><circle cx="408.05" cy="247.21" r="2.15"/><circle cx="411.5" cy="245.01" r="2.15"/><circle cx="414.95" cy="243.7" r="2.15"/><circle cx="418.4" cy="243.78" r="2.15"/><circle cx="421.85" cy="245.9" r="2.15"/><circle cx="425.3" cy="249.81" r="2.15"/><circle cx="428.75" cy="254.41" r="2.15"/><circle cx="432.2" cy="260.93" r="2.15"/><circle cx="435.65" cy="266.5" r="2.15"/><circle cx="439.1" cy="271.47" r="2.15"/><circle cx="442.55" cy="275.6" r="2.15"/><circle cx="446" cy="279.56" r="2.15"/><circle cx="449.45" cy="283.13" r="2.15"/><circle cx="452.9" cy="286.21" r="2.15"/><circle cx="456.35" cy="288.76" r="2.15"/><circle cx="459.8" cy="291.28" r="2.15"/><circle cx="463.25" cy="293.96" r="2.15"/><circle cx="466.7" cy="296.44" r="2.15"/><circle cx="470.15" cy="298.69" r="2.15"/><circle cx="473.6" cy="300.75" r="2.15"/><circle cx="477.05" cy="302.62" r="2.15"/><circle cx="480.5" cy="304.33" r="2.15"/><circle cx="483.95" cy="305.98" r="2.15"/><circle cx="487.4" cy="307.63" r="2.15"/><circle cx="490.85" cy="309.24" r="2.15"/><circle cx="494.3" cy="310.81" r="2.15"/><circle cx="497.75" cy="312.34" r="2.15"/><circle cx="501.2" cy="313.83" r="2.15"/><circle cx="504.65" cy="315.31" r="2.15"/><circle cx="508.1" cy="316.74" r="2.15"/><circle cx="511.55" cy="318.1" r="2.15"/><circle cx="515" cy="319.34" r="2.15"/><circle cx="518.45" cy="320.47" r="2.15"/><circle cx="521.9" cy="321.53" r="2.15"/><circle cx="525.35" cy="322.53" r="2.15"/><circle cx="528.8" cy="323.45" r="2.15"/><circle cx="532.25" cy="324.3" r="2.15"/><circle cx="535.7" cy="325.11" r="2.15"/><circle cx="539.15" cy="325.86" r="2.15"/><circle cx="542.6" cy="326.55" r="2.15"/></g>
<g fill="#fff" stroke="#9fe3ec" stroke-width="0.85"><circle cx="355.6" cy="216.7" r="1.95"/><circle cx="359.3" cy="218.83" r="1.95"/><circle cx="363" cy="221.44" r="1.95"/><circle cx="366.7" cy="223.87" r="1.95"/><circle cx="370.4" cy="225.79" r="1.95"/><circle cx="374.1" cy="226.93" r="1.95"/><circle cx="377.8" cy="227.53" r="1.95"/><circle cx="381.5" cy="227.59" r="1.95"/><circle cx="385.2" cy="226.9" r="1.95"/><circle cx="388.9" cy="225.74" r="1.95"/><circle cx="392.6" cy="224.39" r="1.95"/><circle cx="396.3" cy="222.61" r="1.95"/><circle cx="400" cy="220.74" r="1.95"/><circle cx="403.7" cy="218.84" r="1.95"/><circle cx="407.4" cy="217.54" r="1.95"/><circle cx="411.1" cy="217.12" r="1.95"/><circle cx="414.8" cy="217.58" r="1.95"/><circle cx="418.5" cy="219.5" r="1.95"/><circle cx="422.2" cy="224.14" r="1.95"/><circle cx="425.9" cy="231.36" r="1.95"/><circle cx="429.6" cy="238.96" r="1.95"/><circle cx="433.3" cy="245.28" r="1.95"/><circle cx="437" cy="251.86" r="1.95"/><circle cx="440.7" cy="259.04" r="1.95"/><circle cx="444.4" cy="265.39" r="1.95"/><circle cx="448.1" cy="271.08" r="1.95"/><circle cx="451.8" cy="276.23" r="1.95"/><circle cx="455.5" cy="280.75" r="1.95"/><circle cx="459.2" cy="284.73" r="1.95"/><circle cx="462.9" cy="288.3" r="1.95"/><circle cx="466.6" cy="291.41" r="1.95"/><circle cx="470.3" cy="294.26" r="1.95"/><circle cx="474" cy="297.04" r="1.95"/><circle cx="477.7" cy="299.69" r="1.95"/><circle cx="481.4" cy="302.42" r="1.95"/><circle cx="485.1" cy="305.58" r="1.95"/><circle cx="488.8" cy="308.72" r="1.95"/><circle cx="492.5" cy="311.06" r="1.95"/><circle cx="496.2" cy="312.95" r="1.95"/><circle cx="499.9" cy="314.6" r="1.95"/><circle cx="503.6" cy="316.15" r="1.95"/><circle cx="507.3" cy="317.73" r="1.95"/><circle cx="511" cy="319.29" r="1.95"/><circle cx="514.7" cy="320.78" r="1.95"/><circle cx="518.4" cy="322.18" r="1.95"/><circle cx="522.1" cy="323.48" r="1.95"/><circle cx="525.8" cy="324.67" r="1.95"/><circle cx="529.5" cy="325.79" r="1.95"/><circle cx="533.2" cy="326.86" r="1.95"/><circle cx="536.9" cy="327.91" r="1.95"/><circle cx="540.6" cy="328.9" r="1.95"/><circle cx="544.3" cy="329.85" r="1.95"/></g>
<text x="326" y="354.64" class="t" font-size="11" text-anchor="end" fill="#1a1a1a">0.001</text>
<text x="326" y="329.9" class="t" font-size="11" text-anchor="end" fill="#1a1a1a">0.002</text>
<text x="326" y="305.16" class="t" font-size="11" text-anchor="end" fill="#1a1a1a">0.003</text>
<text x="326" y="280.42" class="t" font-size="11" text-anchor="end" fill="#1a1a1a">0.004</text>
<text x="326" y="255.68" class="t" font-size="11" text-anchor="end" fill="#1a1a1a">0.005</text>
<text x="326" y="230.94" class="t" font-size="11" text-anchor="end" fill="#1a1a1a">0.006</text>
<text x="326" y="206.2" class="t" font-size="11" text-anchor="end" fill="#1a1a1a">0.007</text>
<text x="356.2" y="376.5" class="t" font-size="12" text-anchor="middle" fill="#1a1a1a">0.0</text>
<text x="408.7" y="376.5" class="t" font-size="12" text-anchor="middle" fill="#1a1a1a">0.5</text>
<text x="461.2" y="376.5" class="t" font-size="12" text-anchor="middle" fill="#1a1a1a">1.0</text>
<text x="513.7" y="376.5" class="t" font-size="12" text-anchor="middle" fill="#1a1a1a">1.5</text>
<text x="436.1" y="395.5" font-size="18" text-anchor="middle" font-style="italic" fill="#1a1a1a">H</text>
<text transform="translate(294.0,290.1) rotate(-90)" font-size="15" text-anchor="middle" fill="#1a1a1a"><tspan font-style="italic">M</tspan> /spin</text>
<text x="545" y="352.5" font-size="17" text-anchor="end" fill="#1a1a1a">(d)</text>
<line x1="439.8" y1="216.4" x2="467.1" y2="216.4" stroke="#9ee0e6" stroke-width="1"/>
<circle cx="453.6" cy="216.4" r="2.2" fill="#03929a"/>
<text x="469.3" y="220.7" class="t" font-size="12" text-anchor="start" fill="#1a1a1a">ZFC</text>
<line x1="495.5" y1="216.4" x2="522.7" y2="216.4" stroke="#9ee0e6" stroke-width="1"/>
<circle cx="508.5" cy="216.4" r="2.0" fill="#fff" stroke="#96e2ec" stroke-width="1"/>
<text x="526" y="220.7" class="t" font-size="12" text-anchor="start" fill="#1a1a1a">FC</text>
<text x="473.6" y="236" class="t" font-size="12" text-anchor="start" fill="#1a1a1a">MFO_BSA</text>
</svg></body></html>
